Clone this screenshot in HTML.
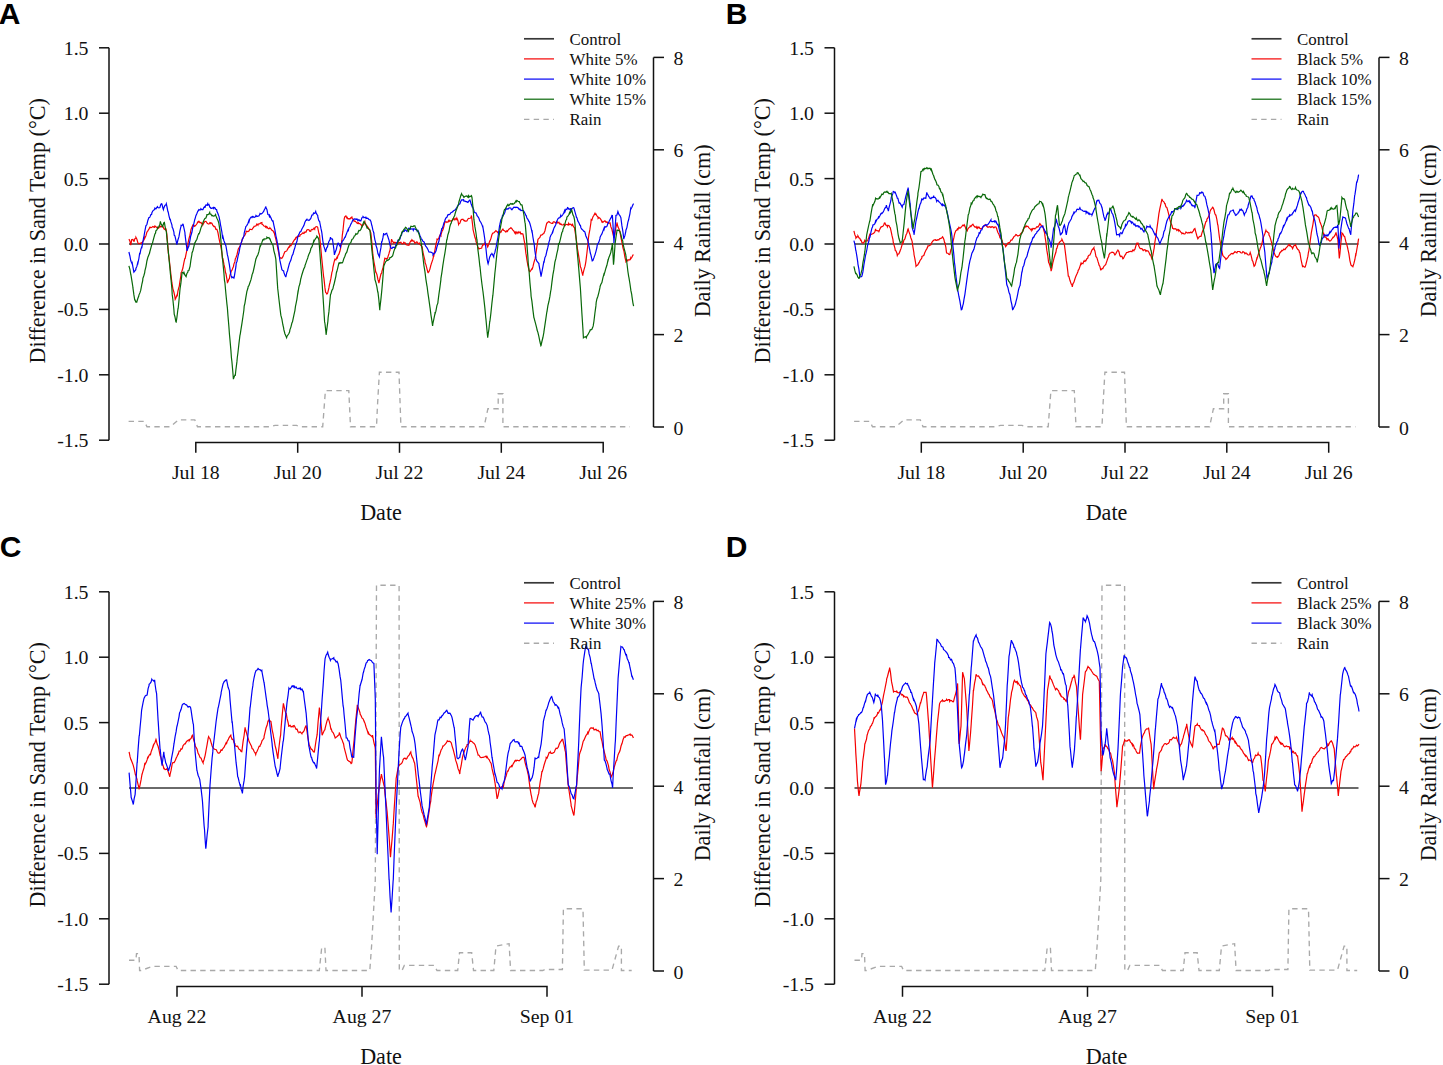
<!DOCTYPE html>
<html><head><meta charset="utf-8"><style>
html,body{margin:0;padding:0;background:#fff;width:1443px;height:1065px;overflow:hidden}
svg{display:block}
text{font-family:"Liberation Serif",serif;fill:#111}
.let{font-family:"Liberation Sans",sans-serif;font-weight:bold;font-size:30px;fill:#000}
.tk{font-size:19.8px}
.ti{font-size:22.1px}
.lg{font-size:16.9px}
path{fill:none}
.ax{stroke:#111;stroke-width:1.5}
.ctl{stroke:#383838;stroke-width:1.7}
.s1{stroke:#f50000;stroke-width:1.2}
.s2{stroke:#0000f5;stroke-width:1.2}
.s3{stroke:#086808;stroke-width:1.2}
.rain{stroke:#a9a9a9;stroke-width:1.35;stroke-dasharray:5.4,4.3}
</style></head><body>
<svg width="1443" height="1065" viewBox="0 0 1443 1065">
<g transform="translate(0,0)">
<text x="-1.2" y="24" class="let">A</text>
<path d="M109,47.8V440.2" class="ax"/>
<path d="M99,47.8H109" class="ax"/>
<text x="88.5" y="54.8" class="tk" text-anchor="end">1.5</text>
<path d="M99,113.2H109" class="ax"/>
<text x="88.5" y="120.2" class="tk" text-anchor="end">1.0</text>
<path d="M99,178.6H109" class="ax"/>
<text x="88.5" y="185.6" class="tk" text-anchor="end">0.5</text>
<path d="M99,244.0H109" class="ax"/>
<text x="88.5" y="251.0" class="tk" text-anchor="end">0.0</text>
<path d="M99,309.4H109" class="ax"/>
<text x="88.5" y="316.4" class="tk" text-anchor="end">-0.5</text>
<path d="M99,374.8H109" class="ax"/>
<text x="88.5" y="381.8" class="tk" text-anchor="end">-1.0</text>
<path d="M99,440.2H109" class="ax"/>
<text x="88.5" y="447.2" class="tk" text-anchor="end">-1.5</text>
<text transform="translate(44.6,230.85) rotate(-90)" class="ti" text-anchor="middle">Difference in Sand Temp (°C)</text>
<path d="M653.5,57.4V427.0" class="ax"/>
<path d="M653.5,427.0H664" class="ax"/>
<text x="673.5" y="434.5" class="tk">0</text>
<path d="M653.5,334.6H664" class="ax"/>
<text x="673.5" y="342.1" class="tk">2</text>
<path d="M653.5,242.2H664" class="ax"/>
<text x="673.5" y="249.7" class="tk">4</text>
<path d="M653.5,149.8H664" class="ax"/>
<text x="673.5" y="157.3" class="tk">6</text>
<path d="M653.5,57.4H664" class="ax"/>
<text x="673.5" y="64.9" class="tk">8</text>
<text transform="translate(710.1,230.85) rotate(-90)" class="ti" text-anchor="middle">Daily Rainfall (cm)</text>
<path d="M195.8,452.8V442.5H603.2V452.8" class="ax"/>
<path d="M297.7,442.5V452.8" class="ax"/>
<path d="M399.5,442.5V452.8" class="ax"/>
<path d="M501.3,442.5V452.8" class="ax"/>
<text x="195.8" y="479.3" class="tk" text-anchor="middle">Jul 18</text>
<text x="297.7" y="479.3" class="tk" text-anchor="middle">Jul 20</text>
<text x="399.5" y="479.3" class="tk" text-anchor="middle">Jul 22</text>
<text x="501.3" y="479.3" class="tk" text-anchor="middle">Jul 24</text>
<text x="603.2" y="479.3" class="tk" text-anchor="middle">Jul 26</text>
<text x="381" y="519.7" class="ti" text-anchor="middle">Date</text>
<path d="M129,244.0H633" class="ctl"/>
<path d="M128.6,421.3 144.3,421.3 147.0,426.7 170.5,426.7 178.6,419.8 194.8,419.8 197.5,426.7 270.5,426.7 275.0,425.4 296.6,425.4 300.0,426.7 322.7,426.7 325.4,390.6 348.8,390.6 350.5,426.7 376.5,426.7 377.5,404.9 379.4,372.2 399.0,372.2 400.9,426.7 484.1,426.7 487.9,408.7 493.5,408.7 498.2,408.7 498.2,393.7 502.9,393.7 502.9,426.7 630.0,426.7" class="rain"/>
<path d="M128.9,239.1 129.9,241.0 130.8,245.1 130.9,244.5 131.8,239.1 131.9,239.6 132.9,239.4 133.8,241.1 133.9,241.7 134.9,238.6 135.8,238.2 135.9,237.3 136.9,239.3 137.7,242.1 137.9,242.9 138.9,243.7 139.9,243.3 140.9,243.2 141.7,242.7 141.9,243.1 142.9,241.5 143.9,239.9 144.7,237.2 144.9,238.0 145.9,235.9 146.9,232.0 147.6,231.3 147.9,230.7 148.9,229.1 149.9,227.2 150.6,227.3 150.9,227.8 151.9,227.3 152.9,226.4 153.9,227.1 154.5,227.3 154.9,226.0 155.9,226.8 156.9,227.5 157.5,227.3 157.9,228.5 158.9,227.8 159.9,225.9 160.9,227.1 161.4,226.3 161.9,226.3 162.9,226.5 163.9,228.6 164.4,229.3 164.9,228.8 165.9,228.8 166.3,230.3 166.9,234.7 167.9,246.6 168.3,252.9 168.9,256.4 169.9,265.5 170.3,268.8 170.9,274.6 171.9,282.7 172.2,284.5 172.9,288.8 173.9,292.1 174.9,296.9 175.2,299.3 175.9,298.0 176.9,295.4 177.2,296.3 177.9,291.2 178.9,287.3 179.2,286.5 179.9,281.6 180.9,275.6 181.1,272.7 181.9,271.2 182.9,268.0 183.1,266.8 183.9,262.7 184.9,258.2 185.1,258.9 185.9,254.8 186.9,250.0 187.9,245.0 188.0,243.1 188.9,239.0 189.9,235.2 190.9,230.0 191.0,229.3 191.9,227.2 192.9,225.1 193.9,226.0 193.9,225.3 194.9,226.1 195.9,225.1 196.9,223.8 197.9,221.6 197.9,222.4 198.9,221.3 199.9,222.7 200.9,222.5 201.9,223.7 202.8,223.4 202.9,224.8 203.9,222.8 204.9,221.5 205.9,221.3 206.8,222.4 206.9,223.0 207.9,223.7 208.9,224.1 209.9,222.6 210.7,223.4 210.9,222.9 211.9,223.3 212.9,225.4 213.9,226.5 214.6,226.3 214.9,226.6 215.9,229.3 216.9,229.3 217.6,231.3 217.9,232.5 218.9,237.8 219.9,242.7 220.6,245.1 220.9,246.7 221.9,252.8 222.5,258.8 222.9,258.6 223.9,264.2 224.9,268.3 225.5,272.7 225.9,273.3 226.9,279.1 227.4,282.5 227.9,282.0 228.9,279.0 229.4,278.6 229.9,275.4 230.9,272.2 231.4,270.7 231.9,270.4 232.9,267.8 233.4,266.7 233.9,264.1 234.9,261.7 235.3,258.9 235.9,257.7 236.9,255.0 237.9,250.6 238.3,249.0 238.9,248.0 239.9,246.4 240.9,244.1 241.9,240.9 242.2,239.1 242.9,238.2 243.9,236.2 244.9,235.1 245.9,232.9 246.2,231.3 246.9,231.4 247.9,231.6 248.9,231.1 249.9,229.2 250.1,229.3 250.9,229.4 251.9,229.5 252.9,228.2 253.9,227.0 254.1,226.3 254.9,226.2 255.9,226.0 256.9,224.1 257.9,225.2 258.0,224.4 258.9,223.9 259.9,223.6 260.9,222.9 261.9,222.6 262.0,224.4 262.9,224.7 263.9,226.0 264.9,226.3 265.9,227.4 265.9,226.3 266.9,226.8 267.9,228.2 268.9,228.8 269.8,228.3 269.9,227.8 270.9,228.8 271.9,230.2 272.9,230.8 273.8,232.3 273.9,231.3 274.9,235.6 275.9,239.3 276.7,243.1 276.9,243.6 277.9,249.2 278.9,253.5 279.7,257.9 279.9,257.3 280.9,258.3 281.7,257.9 281.9,258.2 282.9,256.7 283.6,254.9 283.9,253.9 284.9,251.7 285.9,251.2 286.6,251.0 286.9,250.5 287.9,248.6 288.9,246.9 289.6,247.0 289.9,245.4 290.9,245.8 291.9,244.0 292.5,243.1 292.9,242.3 293.9,240.6 294.9,239.2 295.5,239.2 295.9,237.5 296.9,236.9 297.0,238.2 297.9,236.2 298.9,236.4 299.9,236.0 299.9,235.2 300.9,234.6 301.9,233.8 302.9,232.9 302.9,233.2 303.9,233.6 304.9,231.9 305.9,232.2 306.8,230.3 306.9,229.9 307.9,229.5 308.9,229.7 309.9,231.4 310.8,231.3 310.9,230.2 311.9,229.4 312.9,229.5 313.9,228.2 314.7,229.3 314.9,227.8 315.9,226.7 316.9,226.6 317.7,227.3 317.9,228.5 318.9,233.3 319.6,235.3 319.9,239.1 320.9,249.0 321.6,256.9 321.9,259.9 322.9,269.7 323.6,276.6 323.9,278.1 324.9,287.4 325.6,292.4 325.9,292.5 326.9,294.0 327.5,293.4 327.9,292.2 328.9,287.9 329.5,284.5 329.9,283.0 330.9,278.4 331.9,272.4 332.5,270.7 332.9,267.3 333.9,262.9 334.4,260.8 334.9,259.2 335.9,259.8 336.9,257.3 337.4,257.9 337.9,255.6 338.9,254.2 339.9,251.3 340.4,249.0 340.9,246.7 341.9,240.2 342.3,235.2 342.9,231.2 343.9,221.3 344.3,218.4 344.9,216.7 345.9,216.0 346.9,218.0 347.2,217.5 347.9,218.8 348.9,218.7 349.9,219.0 350.9,217.8 351.9,217.0 352.2,218.5 352.9,218.7 353.9,220.8 354.1,221.4 354.9,221.0 355.9,221.8 356.9,223.1 357.9,223.6 358.1,222.4 358.9,223.4 359.9,223.8 360.9,224.5 361.9,226.0 362.0,225.3 362.9,225.4 363.9,224.1 364.9,221.7 365.0,222.4 365.9,224.6 366.9,226.0 367.9,227.8 367.9,227.3 368.9,228.9 369.9,230.4 370.9,233.1 370.9,233.3 371.9,243.2 372.9,255.0 372.9,254.9 373.9,261.6 374.9,266.9 375.8,272.7 375.9,272.0 376.9,274.5 377.9,279.4 378.8,282.5 378.9,283.1 379.9,278.3 380.9,274.1 381.8,272.7 381.9,271.3 382.9,268.3 383.9,263.0 384.7,258.9 384.9,259.3 385.9,258.2 386.9,258.9 387.7,257.9 387.9,256.8 388.9,253.9 389.6,251.0 389.9,250.8 390.9,243.8 391.6,239.2 391.9,240.4 392.9,241.6 393.6,243.1 393.9,242.7 394.9,242.3 395.9,243.0 396.9,242.7 397.5,243.1 397.9,244.0 398.9,242.5 399.9,242.6 400.9,242.3 401.5,243.1 401.9,243.6 402.9,243.8 403.9,242.2 404.9,243.3 405.4,243.1 405.9,244.6 406.9,245.0 407.9,245.1 408.4,245.1 408.9,245.2 409.9,242.5 410.9,240.8 411.3,241.1 411.9,239.8 412.9,241.2 413.9,241.0 414.9,243.4 415.3,243.1 415.9,242.5 416.9,241.8 417.9,243.5 418.9,243.8 419.2,243.1 419.9,244.4 420.9,245.3 421.9,247.1 422.2,247.0 422.9,252.0 423.9,256.3 424.9,260.3 425.1,262.8 425.9,264.6 426.9,268.7 427.9,272.5 428.1,272.7 428.9,271.7 429.9,269.1 430.9,265.0 431.0,264.8 431.9,262.1 432.9,259.2 433.9,254.6 434.0,254.9 434.9,250.2 435.9,244.6 436.9,240.4 437.0,239.1 437.9,239.5 438.9,237.8 439.9,235.3 440.9,236.1 440.9,235.2 441.9,231.5 442.9,229.7 443.9,226.4 444.8,222.4 444.9,222.4 445.9,221.6 446.9,222.4 447.9,221.6 448.8,220.4 448.9,221.6 449.9,220.7 450.9,221.1 451.9,221.0 452.7,219.4 452.9,219.8 453.9,218.4 454.9,219.9 455.9,218.5 456.7,219.4 456.9,218.3 457.9,220.5 458.6,224.4 458.9,223.7 459.9,223.2 460.9,220.1 461.6,219.4 461.9,219.6 462.9,219.2 463.9,220.6 464.6,220.4 464.9,221.1 465.9,221.1 466.9,221.0 467.9,219.0 468.5,218.4 468.9,218.5 469.9,218.3 470.9,217.8 471.5,215.5 471.9,219.0 472.9,227.4 473.0,229.3 473.9,233.2 474.9,237.3 475.9,240.1 475.9,241.1 476.9,244.1 477.9,246.9 478.9,249.0 479.9,248.4 480.9,248.5 481.8,248.0 481.9,246.9 482.9,244.6 483.9,244.8 484.8,243.1 484.9,244.1 485.9,244.1 486.9,244.6 487.7,247.0 487.9,246.6 488.9,243.6 489.7,241.1 489.9,241.2 490.9,238.6 491.9,234.8 492.7,233.2 492.9,233.1 493.9,232.7 494.9,231.8 495.9,230.6 496.6,231.3 496.9,231.5 497.9,232.6 498.9,231.9 499.6,233.2 499.9,231.8 500.9,232.3 501.9,230.3 502.9,229.1 503.5,230.3 503.9,230.5 504.9,231.0 505.9,232.0 506.9,230.6 507.5,231.3 507.9,230.5 508.9,229.2 509.9,228.6 510.9,227.6 511.4,228.3 511.9,228.6 512.9,230.1 513.9,231.2 514.9,233.0 515.4,232.2 515.9,233.7 516.9,231.9 517.9,233.4 518.9,231.7 519.9,232.8 520.3,232.3 520.9,233.9 521.9,233.6 522.9,234.0 523.2,235.2 523.9,238.8 524.9,244.6 525.9,253.4 526.2,254.9 526.9,260.0 527.9,265.7 528.9,269.7 529.1,270.7 529.9,271.7 530.9,270.4 531.9,268.8 532.1,269.7 532.9,266.9 533.9,262.6 534.9,259.3 535.1,258.9 535.9,253.6 536.9,246.6 537.9,239.8 538.0,239.2 538.9,238.4 539.9,237.5 540.9,234.6 541.0,235.2 541.9,235.0 542.9,234.0 543.9,233.4 543.9,233.2 544.9,231.0 545.9,226.5 546.9,222.6 546.9,223.4 547.9,222.2 548.9,221.6 549.9,222.4 549.9,222.4 550.9,223.0 551.9,223.4 552.8,223.4 552.9,222.3 553.9,221.7 554.9,222.2 555.9,223.1 556.8,221.4 556.9,221.5 557.9,223.1 558.9,222.3 559.9,224.3 560.7,224.4 560.9,223.7 561.9,225.0 562.9,225.0 563.9,224.2 564.6,225.3 564.9,225.7 565.9,224.4 566.9,224.5 567.9,224.9 568.6,223.4 568.9,224.8 569.9,224.2 570.9,224.3 571.9,225.6 572.5,224.4 572.9,225.3 573.9,227.3 574.5,227.4 574.9,230.5 575.9,237.0 576.9,243.9 577.5,249.0 577.9,251.1 578.9,257.3 579.9,263.3 580.4,266.8 580.9,267.7 581.9,271.8 582.8,275.6 582.9,274.1 583.9,270.1 584.9,266.7 585.3,264.8 585.9,261.3 586.9,253.2 587.9,244.1 588.3,239.1 588.9,234.7 589.9,229.4 590.9,222.8 591.2,219.5 591.9,220.0 592.9,216.9 593.9,215.3 594.9,213.4 595.2,214.5 595.9,213.9 596.9,215.9 597.9,216.8 598.1,218.4 598.9,217.5 599.9,218.2 600.9,219.6 601.9,221.8 602.1,221.4 602.9,222.4 603.9,221.4 604.9,220.8 605.9,221.7 606.0,222.4 606.9,221.9 607.9,223.2 608.9,223.2 609.9,223.0 610.0,222.4 610.9,226.9 611.9,229.3 612.9,233.6 613.9,237.9 613.9,237.2 614.9,234.1 615.9,227.5 616.9,223.6 616.9,222.4 617.9,226.8 618.9,228.8 619.8,231.3 619.9,231.4 620.9,237.5 621.9,242.2 622.8,247.0 622.9,247.6 623.9,251.0 624.9,257.1 625.8,260.8 625.9,261.6 626.9,260.1 627.7,260.8 627.9,259.9 628.9,259.8 629.9,259.9 630.7,257.9 630.9,258.6 631.9,257.3 632.9,255.0 633.6,254.9" class="s1"/>
<path d="M128.9,252.0 129.9,256.0 130.8,260.8 130.9,261.1 131.9,263.4 132.2,262.8 132.9,266.8 133.8,271.7 133.9,272.2 134.9,270.9 135.8,269.7 135.9,268.5 136.9,266.4 137.7,262.8 137.9,263.2 138.9,258.5 139.7,252.9 139.9,254.3 140.9,249.2 141.7,247.0 141.9,247.2 142.9,241.8 143.7,237.2 143.9,236.6 144.9,230.9 145.6,227.3 145.9,225.8 146.9,224.5 147.6,221.4 147.9,220.3 148.9,217.5 149.6,217.5 149.9,217.0 150.9,214.6 151.6,214.5 151.9,212.6 152.9,210.8 153.9,209.9 154.5,209.6 154.9,208.1 155.9,208.9 156.9,207.4 157.5,206.6 157.9,207.6 158.9,207.8 159.9,207.6 160.4,205.6 160.9,204.4 161.4,203.7 161.9,203.9 162.9,208.2 163.4,209.6 163.9,207.7 164.9,205.4 165.9,204.9 166.3,203.7 166.9,206.5 167.9,211.5 168.3,212.5 168.9,215.6 169.9,219.5 170.3,219.4 170.9,221.9 171.9,224.8 172.2,227.3 172.9,228.5 173.9,232.1 174.2,235.2 174.9,235.9 175.9,240.2 176.8,244.1 176.9,244.1 177.9,240.0 178.9,236.9 179.2,235.2 179.9,231.2 180.9,226.7 181.1,225.3 181.9,225.5 182.9,224.2 183.1,224.4 183.9,227.8 184.9,232.5 185.1,235.2 185.9,241.4 186.9,248.9 187.0,250.9 187.9,248.2 188.9,246.1 189.0,245.0 189.9,240.6 190.9,234.8 191.0,235.2 191.9,232.3 192.9,226.9 192.9,227.3 193.9,223.3 194.9,218.8 194.9,219.4 195.9,215.7 196.9,213.5 197.9,210.9 197.9,211.5 198.9,209.5 199.9,210.0 200.8,209.6 200.9,208.7 201.9,209.6 202.9,209.6 203.9,207.4 204.8,206.6 204.9,207.8 205.9,204.9 206.9,205.2 207.7,203.7 207.9,205.0 208.9,204.4 209.9,207.2 210.7,207.6 210.9,208.3 211.9,208.3 212.9,207.7 213.7,208.6 213.9,207.3 214.9,207.7 215.9,209.5 216.6,209.6 216.9,211.3 217.9,213.5 218.6,215.5 218.9,216.1 219.9,220.8 220.6,225.3 220.9,226.6 221.9,232.2 222.5,237.2 222.9,236.3 223.9,240.7 224.9,243.2 225.5,245.1 225.9,245.7 226.9,251.7 227.4,254.9 227.9,256.6 228.9,262.1 229.4,264.8 229.9,268.4 230.9,275.2 231.4,276.6 231.9,277.8 232.9,277.0 233.9,278.0 234.3,276.6 234.9,272.8 235.9,266.7 236.3,262.8 236.9,261.7 237.9,256.9 238.3,254.9 238.9,253.1 239.9,247.7 240.9,243.8 241.2,243.1 241.9,240.6 242.9,238.2 243.9,235.9 244.2,233.2 244.9,230.4 245.9,226.4 246.2,226.3 246.9,225.4 247.9,223.5 248.9,220.6 249.1,221.4 249.9,218.7 250.9,217.2 251.9,216.8 252.1,217.5 252.9,216.4 253.9,217.3 254.9,217.2 255.9,216.0 256.0,215.5 256.9,216.5 257.9,216.1 258.9,216.0 259.9,214.0 260.0,213.5 260.9,214.1 261.9,213.6 262.9,212.4 263.9,211.0 263.9,210.6 264.9,208.7 265.9,206.5 265.9,207.6 266.9,209.5 267.9,214.5 268.9,214.8 269.8,217.5 269.9,215.7 270.9,217.7 271.9,220.1 272.8,221.4 272.9,220.4 273.9,225.3 274.9,229.8 275.8,235.2 275.9,235.8 276.9,240.1 277.7,245.1 277.9,245.2 278.9,251.8 279.7,258.9 279.9,260.4 280.9,265.2 281.7,268.7 281.9,269.7 282.9,270.6 283.6,270.7 283.9,272.6 284.9,275.3 285.6,276.6 285.9,276.6 286.9,272.2 287.6,270.7 287.9,269.2 288.9,265.3 289.6,262.8 289.9,262.3 290.9,260.1 291.9,256.2 292.5,254.9 292.9,254.5 293.9,250.5 294.9,247.6 295.5,245.1 295.9,244.0 296.9,241.5 297.9,236.5 298.4,235.2 298.9,234.4 299.9,232.0 300.9,231.6 300.9,231.3 301.9,229.0 302.9,227.2 303.9,225.4 304.9,222.2 305.9,220.3 306.8,219.4 306.9,220.2 307.9,219.8 308.9,220.4 309.9,219.5 310.8,218.4 310.9,218.1 311.9,215.0 312.9,215.0 313.7,212.5 313.9,213.6 314.9,213.3 315.7,211.5 315.9,212.5 316.9,214.4 317.7,215.5 317.9,217.5 318.9,220.8 319.6,221.4 319.9,223.0 320.9,228.2 321.6,231.3 321.9,233.1 322.9,241.3 323.6,245.1 323.9,246.4 324.9,249.4 325.6,252.0 325.9,250.3 326.9,247.2 327.5,247.0 327.9,244.6 328.9,241.4 329.9,239.8 330.5,237.2 330.9,238.7 331.9,238.8 332.5,239.1 332.9,242.3 333.9,249.3 334.4,254.9 334.9,253.0 335.9,250.6 336.4,249.0 336.9,246.6 337.9,243.2 338.4,243.1 338.9,244.3 339.9,246.0 340.4,247.0 340.9,244.2 341.9,242.7 342.3,241.1 342.9,240.7 343.9,239.3 344.9,237.2 345.3,237.2 345.9,235.2 346.9,232.6 347.9,230.2 348.2,231.3 348.9,228.0 349.9,226.5 350.9,224.1 351.9,222.2 352.2,221.4 352.9,219.9 353.9,219.4 354.9,218.8 355.9,219.4 356.1,219.4 356.9,218.9 357.9,220.5 358.9,219.7 359.9,220.9 360.1,220.4 360.9,220.7 361.9,217.8 362.9,216.8 363.0,216.5 363.9,217.7 364.9,217.3 365.9,217.2 366.0,218.4 366.9,218.2 367.9,218.3 368.9,219.5 369.9,220.0 369.9,219.4 370.9,221.4 371.9,225.8 371.9,225.3 372.9,230.2 373.9,233.2 373.9,234.3 374.9,239.8 375.8,243.1 375.9,245.1 376.9,248.2 377.8,253.0 377.9,253.6 378.9,255.8 379.4,256.9 379.9,253.2 380.9,247.9 381.8,241.1 381.9,242.2 382.9,237.9 383.7,233.2 383.9,234.6 384.9,234.9 385.9,233.5 386.7,233.2 386.9,234.1 387.9,236.8 388.6,239.1 388.9,239.7 389.9,244.6 390.6,247.0 390.9,248.1 391.9,248.6 392.9,247.1 393.9,247.4 394.6,248.0 394.9,247.6 395.9,245.0 396.9,242.5 397.5,242.1 397.9,240.3 398.9,240.5 399.9,239.0 400.9,235.6 401.5,235.2 401.9,233.2 402.9,231.5 403.9,231.4 404.4,231.3 404.9,229.6 405.9,230.4 406.9,231.5 407.4,230.3 407.9,229.5 408.9,228.1 409.9,229.1 410.3,228.3 410.9,229.3 411.9,228.8 412.9,229.0 413.3,230.3 413.9,228.8 414.9,229.0 415.9,229.6 416.9,229.7 417.2,231.3 417.9,230.6 418.9,232.6 419.9,235.5 420.9,237.8 421.2,239.1 421.9,239.2 422.9,241.3 423.9,241.7 424.9,243.9 425.1,245.1 425.9,246.5 426.9,247.6 427.9,249.4 428.9,252.0 429.1,252.0 429.9,252.1 430.9,252.2 431.9,252.7 432.9,253.2 433.0,254.9 433.9,253.6 434.9,253.0 435.9,251.0 436.0,251.0 436.9,247.0 437.9,243.9 438.9,241.3 438.9,241.1 439.9,236.4 440.9,232.4 441.9,228.2 441.9,229.3 442.9,226.8 443.9,222.9 444.8,221.4 444.9,220.2 445.9,217.9 446.9,217.3 447.9,214.8 448.8,214.5 448.9,214.7 449.9,214.3 450.9,212.7 451.9,212.2 452.7,211.5 452.9,211.7 453.9,210.4 454.9,210.1 455.9,209.0 456.7,207.6 456.9,207.3 457.9,205.6 458.9,204.4 459.9,203.8 460.6,201.7 460.9,201.1 461.9,199.7 462.9,200.1 463.6,199.7 463.9,201.1 464.9,201.0 465.9,201.6 466.5,201.7 466.9,201.9 467.9,202.4 468.9,200.9 469.9,200.1 470.5,201.7 470.9,203.2 471.9,206.0 472.0,205.6 472.9,207.6 473.9,210.4 473.9,211.5 474.9,212.7 475.9,212.8 476.9,214.8 476.9,215.5 477.9,216.6 478.9,218.2 479.9,221.4 479.9,221.0 480.9,222.5 481.9,224.6 482.8,227.3 482.9,227.1 483.9,233.1 484.8,239.2 484.9,240.5 485.9,248.0 486.8,256.9 486.9,257.8 487.9,263.1 488.1,263.8 488.9,260.7 489.7,256.9 489.9,256.8 490.9,254.5 491.7,253.9 491.9,253.5 492.9,255.3 493.7,256.9 493.9,254.9 494.9,252.4 495.6,249.0 495.9,248.4 496.9,242.9 497.6,239.2 497.9,237.5 498.9,230.6 499.6,225.4 499.9,224.2 500.9,219.7 501.9,218.3 502.5,215.5 502.9,215.7 503.9,214.5 504.9,212.2 505.5,209.6 505.9,209.6 506.9,208.5 507.9,209.2 508.4,208.6 508.9,208.1 509.9,207.8 510.9,208.2 511.4,209.6 511.9,209.8 512.9,208.4 513.9,207.1 514.9,207.4 515.4,207.6 515.9,207.2 516.9,207.4 517.9,207.6 518.9,209.1 519.3,209.6 519.9,209.0 520.9,210.5 521.9,210.3 522.9,210.6 523.2,210.6 523.9,211.3 524.9,213.3 525.9,215.5 526.2,215.5 526.9,218.1 527.9,219.4 528.9,221.4 529.1,221.4 529.9,223.5 530.9,227.2 531.9,231.6 532.1,231.3 532.9,237.0 533.9,242.8 534.1,243.1 534.9,250.9 535.9,257.6 536.0,258.9 536.9,261.1 537.9,262.3 538.9,263.6 539.0,264.8 539.9,269.7 540.9,275.3 541.0,276.6 541.9,272.0 542.9,266.8 543.9,261.4 543.9,262.8 544.9,257.6 545.9,255.5 546.9,250.9 546.9,251.0 547.9,247.2 548.9,242.3 549.9,239.1 549.9,237.8 550.9,235.3 551.9,233.7 552.8,231.3 552.9,231.7 553.9,228.2 554.9,226.4 555.9,224.3 556.8,221.4 556.9,221.1 557.9,218.8 558.9,217.8 559.9,217.7 560.7,215.5 560.9,216.7 561.9,215.9 562.9,214.5 563.9,212.4 564.6,210.6 564.9,211.9 565.9,209.2 566.9,209.5 567.6,207.6 567.9,207.7 568.9,209.2 569.9,208.8 570.5,210.6 570.9,208.7 571.9,208.8 572.9,207.7 573.5,207.6 573.9,208.0 574.9,211.7 575.9,215.2 576.5,217.5 576.9,217.7 577.9,221.2 578.9,222.7 579.9,225.2 580.4,225.3 580.9,227.7 581.9,229.3 582.9,230.1 583.9,231.3 584.4,231.3 584.9,232.0 585.9,236.0 586.9,238.3 587.3,239.1 587.9,240.7 588.9,245.8 589.9,250.7 590.3,253.0 590.9,254.8 591.9,259.4 592.2,260.8 592.9,260.5 593.9,257.9 594.2,256.9 594.9,255.1 595.9,251.6 596.9,247.7 597.2,245.1 597.9,243.8 598.9,242.1 599.9,238.7 600.1,237.2 600.9,235.5 601.9,233.9 602.9,231.1 603.9,228.5 604.1,229.3 604.9,226.6 605.9,227.1 606.9,226.4 607.9,223.6 608.0,223.4 608.9,221.8 609.9,219.7 610.9,217.8 611.0,218.4 611.9,215.4 612.4,215.5 612.9,223.2 613.9,241.5 613.9,243.1 614.9,230.2 615.9,216.8 615.9,215.5 616.9,215.1 617.9,211.5 618.9,214.4 619.9,215.6 620.8,217.5 620.9,217.8 621.9,225.7 622.9,231.7 623.8,239.1 623.9,238.2 624.9,235.7 625.8,231.3 625.9,230.2 626.9,227.6 627.9,222.1 628.7,219.5 628.9,218.4 629.9,213.8 630.7,208.6 630.9,209.1 631.9,207.3 632.9,204.7 633.6,203.7" class="s2"/>
<path d="M128.9,265.8 129.9,269.3 130.8,274.6 130.9,274.6 131.9,280.8 132.8,286.5 132.9,287.7 133.9,294.9 134.8,300.3 134.9,299.7 135.9,302.1 136.8,302.2 136.9,301.5 137.9,298.3 138.7,296.3 138.9,295.1 139.9,292.9 140.7,290.4 140.9,289.4 141.9,284.0 142.7,280.6 142.9,278.3 143.9,275.5 144.7,272.6 144.9,270.9 145.9,266.8 146.6,262.8 146.9,261.0 147.9,257.2 148.9,254.7 149.6,253.0 149.9,251.5 150.9,247.9 151.9,244.1 152.5,243.1 152.9,241.4 153.9,237.7 154.9,234.0 155.5,233.2 155.9,230.8 156.9,229.9 157.9,227.2 158.4,227.3 158.9,226.6 159.9,224.2 160.4,221.4 160.9,223.7 161.9,225.2 162.4,227.3 162.9,225.5 163.9,222.7 164.4,222.4 164.9,225.6 165.9,230.8 166.3,231.2 166.9,238.0 167.9,248.1 168.3,250.9 168.9,257.9 169.9,267.9 170.3,272.7 170.9,278.4 171.9,288.8 172.2,294.4 172.9,299.7 173.9,309.7 174.2,314.1 174.9,316.5 175.9,321.8 176.2,322.0 176.9,317.5 177.9,309.3 178.2,308.2 178.9,301.3 179.9,290.2 180.1,288.5 180.9,283.2 181.9,274.1 182.1,272.7 182.9,272.4 183.9,273.8 184.1,272.7 184.9,274.9 185.9,276.3 186.1,276.6 186.9,273.4 187.9,272.1 188.0,270.7 188.9,270.5 189.9,266.9 190.0,266.8 190.9,260.2 191.9,254.5 192.0,253.0 192.9,250.7 193.9,246.6 194.9,242.3 194.9,243.1 195.9,240.9 196.9,239.2 197.9,235.6 198.9,233.2 198.9,234.4 199.9,231.6 200.9,228.1 201.9,225.4 202.8,223.4 202.9,222.7 203.9,220.3 204.9,218.5 205.9,218.0 206.8,215.5 206.9,214.7 207.9,214.7 208.9,214.1 209.7,212.5 209.9,214.0 210.9,214.1 211.9,215.7 212.7,215.5 212.9,215.9 213.9,216.1 214.9,215.6 215.6,214.5 215.9,215.9 216.9,218.2 217.9,220.2 218.6,222.4 218.9,223.6 219.9,230.4 220.6,237.2 220.9,240.4 221.9,252.6 222.5,258.8 222.9,262.6 223.9,273.0 224.5,280.6 224.9,282.6 225.9,293.7 226.9,303.9 227.4,308.1 227.9,315.0 228.9,326.8 229.4,333.7 229.9,339.0 230.9,350.4 231.4,357.5 231.9,361.5 232.9,372.8 233.4,379.1 233.9,377.6 234.9,375.1 235.3,375.2 235.9,369.8 236.9,361.9 237.3,357.5 237.9,353.0 238.9,344.0 239.9,335.6 240.3,333.8 240.9,329.9 241.9,323.6 242.9,317.0 243.9,310.0 244.2,306.2 244.9,303.3 245.9,297.2 246.9,291.4 247.9,288.3 248.2,286.5 248.9,285.7 249.9,282.8 250.9,279.9 251.9,276.0 252.1,274.6 252.9,272.8 253.9,268.5 254.9,263.9 255.9,258.9 256.0,258.9 256.9,256.6 257.9,254.7 258.9,251.7 259.9,246.8 260.0,247.0 260.9,245.0 261.9,242.4 262.9,239.6 263.9,239.8 263.9,239.1 264.9,238.9 265.9,239.0 266.9,238.1 266.9,237.2 267.9,238.0 268.9,237.5 269.8,239.1 269.9,238.3 270.9,241.6 271.9,243.5 272.8,245.1 272.9,244.6 273.9,250.8 274.9,254.5 275.8,258.9 275.9,260.1 276.9,276.1 277.7,288.4 277.9,290.0 278.9,299.0 279.9,307.4 280.7,314.1 280.9,315.4 281.9,319.1 282.9,325.0 283.6,327.9 283.9,329.9 284.9,333.7 285.9,336.0 286.6,337.7 286.9,336.5 287.9,335.0 288.9,333.5 289.6,331.8 289.9,329.9 290.9,327.1 291.9,323.0 292.5,321.9 292.9,319.8 293.9,315.1 294.9,310.6 295.5,306.2 295.9,304.3 296.9,299.3 297.9,292.2 298.0,292.4 298.9,286.9 299.9,283.8 300.9,278.1 300.9,278.6 301.9,274.7 302.9,271.5 303.9,268.6 304.9,266.7 304.9,265.9 305.9,263.1 306.9,260.1 307.8,257.9 307.9,257.1 308.9,254.2 309.9,252.3 310.8,249.0 310.9,248.5 311.9,246.9 312.9,244.1 313.7,241.1 313.9,241.7 314.9,239.6 315.9,238.1 316.7,237.2 316.9,236.1 317.9,237.4 318.7,239.2 318.9,240.1 319.9,252.5 320.6,262.8 320.9,265.8 321.9,279.8 322.6,290.4 322.9,294.8 323.9,310.5 324.6,321.9 324.9,323.0 325.9,331.9 326.1,334.8 326.9,328.7 327.9,321.1 328.1,318.0 328.9,311.9 329.9,300.8 330.5,294.4 330.9,293.9 331.9,290.3 332.9,288.8 333.4,286.4 333.9,284.8 334.9,280.5 335.9,276.1 336.4,272.7 336.9,271.3 337.9,267.3 338.9,263.0 339.4,262.8 339.9,263.4 340.9,262.5 341.9,263.0 342.3,262.8 342.9,261.7 343.9,258.4 344.9,256.2 345.9,253.2 346.3,253.0 346.9,251.9 347.9,248.2 348.9,245.2 349.9,243.5 350.2,243.1 350.9,242.5 351.9,239.5 352.9,238.9 353.9,237.0 354.1,236.2 354.9,235.9 355.9,233.7 356.9,234.3 357.9,233.3 358.1,232.2 358.9,230.5 359.9,230.6 360.9,229.4 361.9,226.5 362.0,227.3 362.9,224.3 363.9,221.5 364.0,221.4 364.9,223.3 365.9,224.7 366.9,227.5 367.0,227.3 367.9,228.4 368.9,229.1 369.9,230.0 369.9,230.3 370.9,239.4 371.9,250.3 372.9,259.4 372.9,258.9 373.9,269.3 374.9,278.6 374.9,279.4 375.9,282.7 376.9,286.8 377.8,292.4 377.9,291.6 378.9,300.2 379.8,310.1 379.9,308.0 380.9,299.4 381.8,290.4 381.9,289.3 382.9,277.6 383.7,266.8 383.9,265.9 384.9,263.2 385.9,261.3 386.7,260.8 386.9,259.9 387.9,260.4 388.9,259.5 389.6,258.9 389.9,257.5 390.9,257.5 391.9,256.5 392.6,255.9 392.9,254.8 393.9,251.1 394.9,248.6 395.6,248.0 395.9,246.5 396.9,245.1 397.9,242.0 398.9,239.2 399.5,239.1 399.9,237.4 400.9,235.6 401.9,232.2 402.4,231.3 402.9,231.5 403.9,229.3 404.9,228.6 405.4,227.3 405.9,227.6 406.9,228.6 407.9,230.5 408.4,232.2 408.9,229.7 409.9,229.0 410.9,226.2 411.3,226.3 411.9,226.5 412.9,226.6 413.9,225.9 414.9,225.8 415.3,227.3 415.9,228.2 416.9,230.4 417.9,231.0 418.2,232.3 418.9,233.6 419.9,237.4 420.9,241.2 421.2,243.1 421.9,248.3 422.9,256.7 423.9,265.5 424.1,266.7 424.9,271.4 425.9,279.3 426.9,285.6 427.1,286.5 427.9,292.9 428.9,299.6 429.9,306.8 430.1,308.2 430.9,314.6 431.9,320.8 432.6,325.9 432.9,323.5 433.9,318.8 434.9,313.8 435.0,314.1 435.9,311.2 436.9,305.6 437.9,302.9 437.9,302.2 438.9,294.4 439.9,287.3 440.9,279.7 440.9,278.6 441.9,272.4 442.9,265.2 443.9,258.8 443.9,258.7 444.9,253.1 445.9,246.5 446.8,239.2 446.9,240.2 447.9,234.7 448.9,231.8 449.9,226.5 450.8,223.4 450.9,224.2 451.9,220.7 452.9,219.4 453.9,216.9 454.7,215.5 454.9,214.4 455.9,211.0 456.9,208.5 457.9,205.9 458.6,203.7 458.9,202.0 459.9,198.6 460.9,195.3 461.6,193.8 461.9,194.8 462.9,195.4 463.9,197.4 464.6,196.8 464.9,196.4 465.9,196.1 466.9,196.0 467.9,197.1 468.5,195.8 468.9,197.3 469.9,196.1 470.9,196.5 471.5,195.8 471.9,197.2 472.0,197.7 472.9,206.6 473.9,219.5 473.9,219.4 474.9,226.7 475.9,232.5 476.9,240.2 476.9,239.1 477.9,249.6 478.9,257.4 479.9,266.8 479.9,265.7 480.9,275.5 481.9,283.8 482.8,290.5 482.9,291.0 483.9,299.4 484.9,308.4 485.8,318.0 485.9,318.6 486.9,329.5 487.7,337.7 487.9,335.9 488.9,329.3 489.7,321.9 489.9,321.3 490.9,313.1 491.9,303.3 492.7,296.4 492.9,295.2 493.9,284.1 494.9,273.0 495.6,266.8 495.9,263.4 496.9,253.8 497.9,245.1 498.6,239.1 498.9,237.2 499.9,230.3 500.9,224.8 501.6,221.4 501.9,218.6 502.9,216.2 503.9,211.4 504.5,209.6 504.9,209.5 505.9,207.9 506.9,205.9 507.9,204.5 508.4,205.6 508.9,205.6 509.9,204.2 510.9,203.5 511.9,204.2 512.4,203.7 512.9,204.2 513.9,203.7 514.9,202.8 515.9,201.0 516.3,201.7 516.9,200.4 517.9,201.2 518.9,201.7 519.3,201.7 519.9,203.0 520.9,204.8 521.9,204.8 522.2,205.6 522.9,209.7 523.9,214.9 524.9,222.2 525.2,223.4 525.9,231.6 526.9,244.4 527.9,257.1 528.2,262.8 528.9,268.9 529.9,282.3 530.9,292.7 531.1,296.3 531.9,301.1 532.9,309.9 533.9,317.7 534.1,318.0 534.9,321.2 535.9,324.9 536.9,328.9 537.0,329.8 537.9,332.4 538.9,336.7 539.9,341.5 540.9,345.7 541.0,345.6 541.9,341.5 542.9,337.5 543.9,332.3 543.9,331.8 544.9,325.2 545.9,318.4 546.9,311.5 546.9,312.1 547.9,305.6 548.9,301.5 549.9,296.4 550.8,290.4 550.9,290.8 551.9,282.4 552.9,274.9 553.9,269.4 554.8,262.8 554.9,262.1 555.9,258.4 556.9,253.4 557.9,249.1 558.7,243.1 558.9,244.5 559.9,241.1 560.9,236.8 561.9,232.5 562.7,231.2 562.9,229.6 563.9,227.3 564.9,224.1 565.9,220.2 566.6,219.4 566.9,217.1 567.9,216.2 568.9,214.5 569.6,212.5 569.9,213.4 570.9,211.9 571.5,209.6 571.9,210.7 572.9,214.8 573.9,216.8 574.5,219.5 574.9,223.1 575.9,235.6 576.9,248.4 577.5,254.9 577.9,259.1 578.9,270.6 579.9,282.6 580.4,288.4 580.9,296.8 581.9,313.5 582.9,328.8 583.4,337.7 583.9,337.1 584.9,337.1 585.9,336.6 586.3,337.7 586.9,336.0 587.9,334.7 588.9,332.8 589.9,331.1 590.3,329.8 590.9,329.9 591.9,329.3 592.9,326.8 593.2,325.9 593.9,321.5 594.9,313.3 595.9,305.9 596.2,302.3 596.9,299.0 597.9,296.2 598.9,292.3 599.9,287.9 600.1,286.5 600.9,284.3 601.9,282.5 602.9,277.8 603.9,274.2 604.1,274.6 604.9,271.8 605.9,268.2 606.9,265.3 607.9,260.6 608.0,260.8 608.9,257.4 609.9,255.1 610.9,252.1 611.0,251.0 611.9,247.1 612.4,243.1 612.9,252.7 613.5,264.7 613.9,260.8 614.9,246.5 614.9,245.1 615.9,237.6 616.9,231.3 616.9,230.3 617.9,230.2 618.9,230.6 619.8,231.3 619.9,231.6 620.9,234.6 621.9,239.1 622.8,241.1 622.9,243.2 623.9,247.6 624.9,251.4 625.8,254.9 625.9,256.2 626.9,263.0 627.9,271.5 628.7,276.6 628.9,277.3 629.9,283.5 630.9,290.7 631.7,294.3 631.9,296.1 632.9,302.8 633.6,306.2" class="s3"/>
<path d="M524,38.8H554" class="ctl"/>
<text x="569.5" y="44.8" class="lg">Control</text>
<path d="M524,58.9H554" class="s1"/>
<text x="569.5" y="64.9" class="lg">White 5%</text>
<path d="M524,79.1H554" class="s2"/>
<text x="569.5" y="85.1" class="lg">White 10%</text>
<path d="M524,99.2H554" class="s3"/>
<text x="569.5" y="105.2" class="lg">White 15%</text>
<path d="M524,119.4H554" class="rain"/>
<text x="569.5" y="125.4" class="lg">Rain</text>
</g>
<g transform="translate(725.5,0)">
<text x="0.30000000000000004" y="24" class="let">B</text>
<path d="M109,47.8V440.2" class="ax"/>
<path d="M99,47.8H109" class="ax"/>
<text x="88.5" y="54.8" class="tk" text-anchor="end">1.5</text>
<path d="M99,113.2H109" class="ax"/>
<text x="88.5" y="120.2" class="tk" text-anchor="end">1.0</text>
<path d="M99,178.6H109" class="ax"/>
<text x="88.5" y="185.6" class="tk" text-anchor="end">0.5</text>
<path d="M99,244.0H109" class="ax"/>
<text x="88.5" y="251.0" class="tk" text-anchor="end">0.0</text>
<path d="M99,309.4H109" class="ax"/>
<text x="88.5" y="316.4" class="tk" text-anchor="end">-0.5</text>
<path d="M99,374.8H109" class="ax"/>
<text x="88.5" y="381.8" class="tk" text-anchor="end">-1.0</text>
<path d="M99,440.2H109" class="ax"/>
<text x="88.5" y="447.2" class="tk" text-anchor="end">-1.5</text>
<text transform="translate(44.6,230.85) rotate(-90)" class="ti" text-anchor="middle">Difference in Sand Temp (°C)</text>
<path d="M653.5,57.4V427.0" class="ax"/>
<path d="M653.5,427.0H664" class="ax"/>
<text x="673.5" y="434.5" class="tk">0</text>
<path d="M653.5,334.6H664" class="ax"/>
<text x="673.5" y="342.1" class="tk">2</text>
<path d="M653.5,242.2H664" class="ax"/>
<text x="673.5" y="249.7" class="tk">4</text>
<path d="M653.5,149.8H664" class="ax"/>
<text x="673.5" y="157.3" class="tk">6</text>
<path d="M653.5,57.4H664" class="ax"/>
<text x="673.5" y="64.9" class="tk">8</text>
<text transform="translate(710.1,230.85) rotate(-90)" class="ti" text-anchor="middle">Daily Rainfall (cm)</text>
<path d="M195.8,452.8V442.5H603.2V452.8" class="ax"/>
<path d="M297.7,442.5V452.8" class="ax"/>
<path d="M399.5,442.5V452.8" class="ax"/>
<path d="M501.3,442.5V452.8" class="ax"/>
<text x="195.8" y="479.3" class="tk" text-anchor="middle">Jul 18</text>
<text x="297.7" y="479.3" class="tk" text-anchor="middle">Jul 20</text>
<text x="399.5" y="479.3" class="tk" text-anchor="middle">Jul 22</text>
<text x="501.3" y="479.3" class="tk" text-anchor="middle">Jul 24</text>
<text x="603.2" y="479.3" class="tk" text-anchor="middle">Jul 26</text>
<text x="381" y="519.7" class="ti" text-anchor="middle">Date</text>
<path d="M129,244.0H633" class="ctl"/>
<path d="M128.6,421.3 144.3,421.3 147.0,426.7 170.5,426.7 178.6,419.8 194.8,419.8 197.5,426.7 270.5,426.7 275.0,425.4 296.6,425.4 300.0,426.7 322.7,426.7 325.4,390.6 348.8,390.6 350.5,426.7 376.5,426.7 377.5,404.9 379.4,372.2 399.0,372.2 400.9,426.7 484.1,426.7 487.9,408.7 493.5,408.7 498.2,408.7 498.2,393.7 502.9,393.7 502.9,426.7 630.0,426.7" class="rain"/>
<path d="M128.4,230.8 129.4,234.9 130.3,236.7 130.4,238.2 131.4,236.9 132.3,236.8 132.4,235.8 133.4,237.8 134.4,238.5 135.3,240.7 135.4,239.6 136.4,242.5 137.2,242.7 137.4,243.2 138.4,242.6 139.2,240.7 139.4,241.5 140.4,240.8 141.4,241.0 142.2,240.7 142.4,239.9 143.4,237.2 144.2,234.8 144.4,235.3 145.4,234.3 146.4,234.1 147.1,233.8 147.4,233.7 148.4,233.1 149.4,231.8 150.1,228.9 150.4,230.3 151.4,230.7 152.4,230.9 153.0,230.8 153.4,231.6 154.4,229.0 155.4,227.1 156.0,226.9 156.4,226.6 157.4,226.3 158.4,224.5 158.9,223.0 159.4,222.9 160.4,225.2 161.4,225.3 161.9,226.9 162.4,225.4 163.4,225.5 164.4,227.5 164.8,227.9 165.4,230.3 166.4,235.2 167.4,239.3 167.8,242.6 168.4,244.7 169.4,248.2 169.8,250.6 170.4,250.7 171.4,253.2 171.8,255.5 172.4,254.3 173.4,253.8 174.4,251.6 174.7,250.5 175.4,248.9 176.4,245.4 177.4,241.9 177.7,242.7 178.4,240.0 179.4,239.0 180.4,235.4 180.6,234.8 181.4,233.2 182.4,229.2 182.6,228.9 183.4,231.6 184.4,234.2 184.6,234.8 185.4,238.0 186.4,240.5 186.5,240.7 187.4,246.8 188.4,252.7 188.5,254.5 189.4,258.8 190.4,264.7 190.5,266.3 191.4,265.4 192.4,264.8 193.4,262.5 193.4,263.4 194.4,260.7 195.4,259.5 196.4,257.8 196.4,256.5 197.4,256.1 198.4,255.3 199.3,252.5 199.4,252.5 200.4,250.3 201.4,248.6 202.3,246.6 202.4,245.8 203.4,245.9 204.4,245.2 205.4,244.8 206.2,242.7 206.4,242.3 207.4,241.0 208.4,240.1 209.4,239.8 210.2,239.7 210.4,240.4 211.4,240.3 212.4,239.7 213.4,239.8 214.1,238.7 214.4,238.6 215.4,238.4 216.4,237.7 217.1,236.8 217.4,237.2 218.4,239.4 219.1,242.7 219.4,242.8 220.4,247.6 221.0,252.5 221.4,253.1 222.4,253.2 223.4,254.4 224.0,254.5 224.4,254.1 225.4,249.5 226.0,248.6 226.4,245.2 227.4,242.0 228.4,237.7 228.9,234.8 229.4,233.0 230.4,230.6 231.4,230.1 231.9,228.9 232.4,229.6 233.4,227.3 234.4,228.2 235.4,227.5 235.8,226.9 236.4,226.3 237.4,225.0 238.4,225.8 238.8,224.9 239.4,225.9 240.4,229.1 241.4,230.5 241.7,230.8 242.4,228.8 243.4,227.6 244.4,226.9 244.7,225.9 245.4,226.6 246.4,225.1 247.4,224.3 247.7,224.9 248.4,225.9 249.4,227.0 250.4,226.8 251.4,228.2 251.6,226.9 252.4,228.0 253.4,227.0 254.4,228.4 255.4,228.8 255.5,228.9 256.4,228.1 257.4,227.0 258.4,226.4 259.4,224.9 259.5,224.9 260.4,225.1 261.4,226.6 262.4,227.3 263.4,226.9 263.4,226.9 264.4,226.7 265.4,227.5 266.4,226.7 267.4,226.9 268.4,227.9 269.4,226.9 270.4,227.0 271.3,228.9 271.4,229.6 272.4,232.5 273.4,234.2 274.3,236.7 274.4,237.8 275.4,238.6 276.4,240.0 277.2,242.7 277.4,243.6 278.4,244.3 279.4,244.7 280.2,246.6 280.4,246.2 281.4,244.9 282.4,243.0 283.1,242.7 283.4,243.1 284.4,242.2 285.4,240.2 286.4,240.2 287.1,238.7 287.4,238.5 288.4,236.6 289.4,236.0 290.4,234.5 291.0,234.8 291.4,235.2 292.4,236.1 293.4,235.5 294.4,235.4 294.5,234.8 295.4,233.4 296.4,232.9 297.4,230.4 297.5,230.8 298.4,228.5 299.4,226.9 300.4,226.1 300.4,226.9 301.4,226.4 302.4,226.3 303.4,227.9 304.4,228.6 305.4,229.9 306.3,228.9 306.4,230.5 307.4,228.8 308.4,228.5 309.3,228.9 309.4,228.5 310.4,228.0 311.4,226.7 312.2,226.9 312.4,227.1 313.4,225.7 314.2,223.9 314.4,223.6 315.4,225.0 316.4,226.1 317.2,226.9 317.4,226.7 318.4,230.7 319.1,232.8 319.4,235.6 320.4,242.1 321.1,248.6 321.4,250.7 322.4,256.5 323.1,262.4 323.4,262.7 324.4,265.5 325.4,269.1 325.6,271.2 326.4,268.2 327.4,262.5 328.0,260.4 328.4,258.7 329.4,255.3 330.4,252.3 331.0,248.6 331.4,248.4 332.4,244.8 333.4,242.9 333.9,242.7 334.4,241.7 335.4,241.1 336.3,239.7 336.4,239.2 337.4,241.5 338.4,243.0 338.9,244.6 339.4,248.6 340.4,256.6 340.8,260.4 341.4,263.9 342.4,272.2 342.8,276.1 343.4,276.4 344.4,280.3 345.4,283.1 345.8,284.1 346.4,284.7 346.8,287.0 347.4,283.8 348.4,282.3 349.4,279.0 349.7,278.1 350.4,276.3 351.4,274.1 352.4,271.7 352.7,270.3 353.4,269.4 354.4,266.6 355.4,263.5 355.6,264.4 356.4,263.3 357.4,263.7 358.4,261.1 359.4,261.5 359.6,260.4 360.4,260.7 361.4,258.7 362.4,258.0 362.5,256.5 363.4,255.3 364.4,255.0 365.4,252.7 365.5,252.5 366.4,250.1 367.4,249.0 368.4,247.6 368.4,248.6 369.4,250.9 370.4,256.2 370.4,256.5 371.4,257.7 372.4,261.2 373.4,264.3 373.4,264.8 374.4,266.4 375.3,270.3 375.4,269.9 376.4,268.8 377.3,268.3 377.4,268.4 378.4,266.3 379.4,265.4 380.3,264.4 380.4,263.9 381.4,261.1 382.4,258.0 383.2,256.5 383.4,255.0 384.4,253.2 385.4,252.7 386.2,252.5 386.4,252.1 387.4,252.3 388.4,253.0 389.1,254.5 389.4,254.9 390.4,253.6 391.4,251.5 392.1,250.6 392.4,250.1 393.4,251.6 394.4,255.7 395.1,256.5 395.4,256.2 396.4,256.3 397.4,258.8 398.0,258.4 398.4,257.4 399.4,255.3 400.4,253.9 401.0,252.5 401.4,252.5 402.4,252.4 403.4,251.7 404.4,251.7 404.9,251.5 405.4,251.2 406.4,251.7 407.4,250.0 408.4,250.8 408.9,249.6 409.4,249.4 410.4,245.8 411.4,243.3 411.8,243.7 412.4,243.1 413.4,246.3 414.4,248.1 414.8,248.6 415.4,248.6 416.4,248.6 417.4,250.1 417.7,250.6 418.4,249.8 419.4,249.7 420.4,251.2 420.7,250.6 421.4,250.9 422.4,250.8 423.4,252.2 424.4,254.7 424.6,254.5 425.4,255.7 426.4,258.8 426.6,258.4 427.4,255.2 428.4,249.4 428.6,248.6 429.4,242.2 430.4,236.0 430.5,234.8 431.4,228.7 432.4,221.3 433.4,213.7 433.5,213.1 434.4,208.3 435.4,203.8 436.4,199.3 436.5,199.3 437.4,201.2 438.4,201.8 439.4,204.0 439.4,203.2 440.4,206.8 441.4,207.6 442.4,211.1 443.4,215.1 444.4,219.5 445.3,223.0 445.4,223.0 446.4,225.3 447.3,228.9 447.4,228.3 448.4,229.0 449.4,228.7 450.3,228.9 450.4,228.9 451.4,230.5 452.4,229.4 453.2,230.8 453.4,229.9 454.4,230.8 455.4,232.4 456.2,232.8 456.4,233.7 457.4,233.1 458.4,234.0 459.4,234.0 460.1,232.8 460.4,232.1 461.4,232.6 462.4,233.0 463.4,232.4 464.1,232.8 464.4,232.8 465.4,232.0 466.4,232.9 467.4,231.3 468.0,230.8 468.4,229.4 469.4,228.5 469.5,228.9 470.4,232.3 471.4,236.0 472.4,238.8 472.5,238.7 473.4,237.2 474.4,236.4 475.4,236.5 475.4,236.8 476.4,233.1 477.4,230.2 478.4,228.9 479.4,225.0 480.4,221.7 481.3,221.0 481.4,219.2 482.4,217.9 483.4,215.5 484.3,213.1 484.4,211.8 485.4,209.6 486.4,208.3 487.2,207.2 487.4,207.4 488.4,209.5 489.4,213.8 490.2,215.1 490.4,215.1 491.4,219.7 492.2,224.9 492.4,225.0 493.4,233.2 494.1,238.7 494.4,240.4 495.4,245.4 496.4,251.5 497.1,254.5 497.4,255.7 498.4,256.6 499.4,257.8 500.1,258.4 500.4,259.4 501.4,258.5 502.4,257.3 503.0,256.5 503.4,255.6 504.4,255.0 505.4,253.9 506.0,253.5 506.4,253.4 507.4,253.9 508.4,252.8 508.9,252.5 509.4,251.6 510.4,252.3 511.4,252.8 511.9,251.5 512.4,251.5 513.4,251.5 514.4,251.6 514.9,252.5 515.4,252.7 516.4,253.0 517.4,251.6 518.4,252.2 518.8,252.5 519.4,253.8 520.4,253.0 521.4,253.5 521.8,254.5 522.4,254.7 523.4,255.0 524.4,253.6 524.7,252.5 525.4,254.7 526.4,258.9 526.7,260.4 527.4,261.5 528.4,265.6 528.6,266.3 529.4,265.4 530.4,262.1 531.4,258.1 531.6,258.4 532.4,255.8 533.4,252.4 534.4,249.4 534.6,248.6 535.4,246.7 536.4,243.8 537.4,238.6 537.5,238.7 538.4,235.9 539.4,233.5 540.4,230.4 540.5,230.8 541.4,231.5 542.4,232.5 543.4,233.1 543.4,234.8 544.4,236.7 545.4,240.1 546.4,243.8 546.4,244.6 547.4,247.7 548.4,252.2 549.4,254.5 549.4,254.9 550.4,256.5 551.4,257.1 552.3,256.5 552.4,256.9 553.4,255.5 554.4,252.7 555.4,251.8 556.2,250.6 556.4,250.9 557.4,250.2 558.4,249.0 559.4,249.7 560.2,248.6 560.4,248.1 561.4,247.2 562.4,245.8 563.4,244.5 564.1,245.6 564.4,245.0 565.4,246.2 566.4,247.0 567.1,248.6 567.4,247.7 568.4,245.7 569.4,245.3 570.0,244.6 570.4,245.8 571.4,248.2 572.4,249.6 573.4,250.3 574.0,252.5 574.4,252.7 575.4,259.0 576.4,263.7 577.0,266.3 577.4,265.8 578.4,266.7 579.4,267.2 579.9,266.3 580.4,264.5 581.4,260.4 582.4,256.2 582.9,252.5 583.4,250.6 584.4,243.2 585.4,235.8 585.8,232.8 586.4,229.6 587.4,224.6 588.4,217.7 588.8,215.1 589.4,215.2 590.4,214.7 591.4,216.0 592.4,216.7 592.7,217.0 593.4,217.9 594.4,221.7 595.4,224.3 595.7,224.9 596.4,227.2 597.4,231.7 598.4,235.6 598.6,234.8 599.4,237.3 600.4,237.0 601.4,239.4 601.6,238.7 602.4,238.6 603.4,240.3 604.4,241.1 604.6,240.7 605.4,240.5 606.4,239.0 607.4,237.5 607.5,237.7 608.4,236.9 609.4,235.4 610.4,232.9 610.5,232.8 611.4,235.7 612.4,239.9 612.4,240.7 613.4,252.8 613.8,258.4 614.4,253.8 615.4,242.7 616.4,233.8 616.4,232.9 617.4,233.9 618.4,236.0 619.3,236.7 619.4,237.6 620.4,241.9 621.4,244.8 622.3,248.6 622.4,249.2 623.4,253.9 624.4,260.6 625.3,264.4 625.4,265.0 626.4,265.9 627.2,266.3 627.4,266.6 628.4,263.4 629.4,259.5 630.2,254.5 630.4,254.8 631.4,249.0 632.4,243.2 633.1,238.7" class="s1"/>
<path d="M128.4,240.7 129.4,244.4 130.3,250.5 130.4,250.5 131.4,256.3 132.3,262.4 132.4,263.8 133.4,269.1 134.3,276.2 134.4,276.7 135.4,276.9 136.3,276.2 136.4,276.1 137.4,271.9 138.2,266.3 138.4,264.8 139.4,259.1 140.2,254.5 140.4,254.3 141.4,249.5 142.2,244.7 142.4,244.5 143.4,241.0 144.2,236.7 144.4,237.7 145.4,232.4 146.4,228.1 147.1,226.9 147.4,224.9 148.4,224.7 149.4,223.6 150.1,221.0 150.4,221.6 151.4,219.4 152.4,218.6 153.0,217.0 153.4,217.6 154.4,215.8 155.4,213.7 156.0,213.1 156.4,213.6 157.4,212.4 158.4,210.4 158.9,209.2 159.4,208.2 160.4,207.3 160.9,205.2 161.4,207.5 162.4,209.3 162.9,211.1 163.4,208.0 164.4,204.3 165.4,200.5 165.8,197.3 166.4,196.1 167.4,193.4 167.8,191.4 168.4,191.5 169.4,192.8 169.8,192.4 170.4,194.1 171.4,196.7 171.8,198.3 172.4,198.4 173.4,202.3 173.7,203.2 174.4,202.9 175.4,204.6 176.4,206.5 176.7,207.2 177.4,204.7 178.4,204.5 178.7,203.2 179.4,200.4 180.4,196.0 180.6,195.3 181.4,192.5 182.4,188.7 182.6,187.5 183.4,193.8 184.4,202.6 184.6,203.2 185.4,213.2 186.4,224.2 186.5,226.8 187.4,230.0 188.4,232.9 188.5,234.8 189.4,228.7 190.4,221.5 190.5,221.0 191.4,217.0 192.4,212.1 193.4,207.8 193.4,209.1 194.4,204.8 195.4,202.9 196.4,198.3 196.4,199.3 197.4,199.8 198.4,197.9 199.4,198.1 200.3,198.3 200.4,197.7 201.3,192.4 201.4,193.2 202.4,194.8 203.4,196.9 204.3,197.3 204.4,198.3 205.4,198.8 206.4,197.3 207.4,197.5 208.2,196.3 208.4,197.3 209.4,197.3 210.4,198.5 211.2,201.3 211.4,200.7 212.4,200.3 213.4,201.8 214.1,202.2 214.4,202.6 215.4,203.6 216.4,205.2 217.1,204.2 217.4,205.6 218.4,204.8 219.4,206.2 220.1,207.2 220.4,207.6 221.4,211.2 222.4,215.6 223.0,219.0 223.4,220.7 224.4,225.2 225.4,229.7 226.0,232.8 226.4,235.8 227.4,245.9 228.4,255.2 228.9,262.3 229.4,265.6 230.4,275.7 231.4,283.6 231.9,288.0 232.4,290.9 233.4,296.5 234.4,301.1 235.4,307.3 235.8,309.7 236.4,309.3 237.4,305.2 237.8,303.8 238.4,299.8 239.4,294.3 240.4,287.0 240.8,284.1 241.4,279.6 242.4,272.5 243.4,266.2 243.7,264.4 244.4,260.9 245.4,257.3 246.4,253.2 247.4,251.4 247.7,250.6 248.4,249.3 249.4,245.3 250.4,240.8 250.6,240.7 251.4,237.9 252.4,236.6 253.4,234.3 253.6,232.8 254.4,233.1 255.4,230.2 256.4,229.7 257.4,226.8 257.5,226.9 258.4,225.6 259.4,225.7 260.4,224.6 261.4,225.4 261.5,224.9 262.4,224.6 263.4,223.1 264.4,221.5 265.4,219.9 265.4,221.0 266.4,221.6 267.4,221.7 268.4,221.2 269.3,222.0 269.4,220.8 270.4,221.2 271.4,223.6 272.3,224.9 272.4,223.7 273.4,227.9 274.4,232.1 275.3,236.8 275.4,236.7 276.4,243.2 277.4,248.4 278.2,254.5 278.4,256.6 279.4,267.0 280.4,275.6 281.2,284.1 281.4,285.1 282.4,287.4 283.4,292.1 284.1,293.9 284.4,294.4 285.4,300.6 286.4,304.9 287.1,309.7 287.4,309.6 288.4,307.6 289.4,305.5 290.0,303.8 290.4,301.9 291.4,298.1 292.4,293.1 293.0,290.0 293.4,288.4 294.4,285.7 294.5,286.0 295.4,279.2 296.4,271.6 296.5,272.3 297.4,267.2 298.4,265.2 299.4,261.0 299.4,260.4 300.4,258.3 301.4,256.6 302.4,252.4 302.4,252.5 303.4,249.1 304.4,246.1 305.3,242.7 305.4,243.3 306.4,240.7 307.4,237.6 308.3,236.8 308.4,237.1 309.4,234.8 310.4,233.7 311.3,232.8 311.4,231.8 312.4,231.0 313.4,229.9 314.2,228.9 314.4,227.8 315.4,226.8 316.4,226.7 317.2,225.9 317.4,227.1 318.4,228.7 319.4,231.1 320.1,232.8 320.4,232.2 321.4,234.3 322.4,237.3 323.1,238.7 323.4,238.8 324.4,241.5 325.4,244.9 325.6,247.6 326.4,241.7 327.4,233.7 328.0,228.9 328.4,227.8 329.4,225.8 330.4,221.4 331.0,220.0 331.4,222.2 332.4,224.9 332.9,226.9 333.4,227.5 334.4,231.8 334.9,234.8 335.4,234.5 336.4,232.9 336.9,232.8 337.4,229.4 338.4,225.9 338.9,224.9 339.4,226.8 340.4,233.0 340.8,234.8 341.4,231.2 342.4,226.1 342.8,224.9 343.4,222.8 344.4,221.3 345.4,219.5 345.8,219.0 346.4,216.6 347.4,214.9 348.4,212.4 348.7,213.1 349.4,212.0 350.4,211.8 351.4,209.3 351.7,209.1 352.4,209.4 353.4,209.6 354.4,207.7 354.6,208.2 355.4,209.7 356.4,210.0 357.4,210.8 357.6,211.1 358.4,211.4 359.4,211.1 360.4,211.3 360.6,213.1 361.4,211.6 362.4,213.2 363.4,214.2 363.5,213.1 364.4,214.2 365.4,214.1 366.4,214.5 366.5,215.1 367.4,212.8 368.4,210.3 369.4,208.3 369.4,209.2 370.4,205.0 371.4,200.3 371.4,201.3 372.4,200.1 373.4,200.3 373.4,200.7 374.4,203.5 375.4,204.3 376.3,207.2 376.4,206.8 377.4,212.1 378.4,216.9 379.3,219.0 379.4,220.7 380.4,218.2 381.4,214.5 382.2,213.1 382.4,213.9 383.4,213.1 384.4,209.7 385.2,209.2 385.4,209.5 386.4,213.1 387.4,214.5 388.1,217.0 388.4,218.1 389.4,223.4 390.4,229.7 391.1,234.8 391.4,234.6 392.4,234.7 393.4,234.2 394.1,235.8 394.4,233.6 395.4,232.6 396.4,233.7 397.0,232.8 397.4,231.3 398.4,229.0 399.4,227.7 400.0,224.9 400.4,225.8 401.4,224.4 402.4,221.6 402.9,221.0 403.4,220.9 404.4,220.6 405.4,222.0 405.9,223.0 406.4,221.8 407.4,222.9 408.4,224.7 408.9,224.9 409.4,224.1 410.4,226.4 411.4,225.7 412.4,225.8 412.8,226.9 413.4,226.2 414.4,227.3 415.4,229.1 415.8,228.9 416.4,228.3 417.4,230.4 418.4,231.8 418.7,230.8 419.4,230.8 420.4,229.0 421.4,226.3 421.7,226.9 422.4,226.7 423.4,226.8 424.4,227.0 424.6,225.9 425.4,227.8 426.4,228.4 427.4,230.2 427.6,230.8 428.4,232.6 429.4,234.8 430.4,234.0 430.5,234.8 431.4,237.1 432.4,238.2 433.4,241.1 434.4,243.8 434.5,243.6 435.4,241.1 436.4,238.8 437.4,236.8 437.4,236.8 438.4,231.7 439.4,229.7 440.4,224.8 440.4,224.9 441.4,221.0 442.4,218.8 443.4,217.0 443.4,217.8 444.4,215.3 445.4,213.9 446.3,211.1 446.4,212.5 447.4,211.5 448.4,211.1 449.3,209.1 449.4,208.6 450.4,208.8 451.4,209.6 452.2,209.1 452.4,208.8 453.4,208.2 454.4,207.7 455.2,207.2 455.4,208.2 456.4,205.9 457.4,206.4 458.1,205.2 458.4,205.3 459.4,203.7 460.4,202.3 461.1,200.3 461.4,200.7 462.4,201.6 463.4,200.8 464.1,202.2 464.4,201.5 465.4,203.5 466.4,205.5 467.0,205.2 467.4,206.0 468.4,205.7 469.4,207.4 469.5,207.2 470.4,201.7 471.4,196.1 471.5,195.4 472.4,195.4 473.4,195.1 474.4,192.3 474.4,192.4 475.4,193.4 476.4,192.0 477.4,192.9 477.4,192.4 478.4,195.8 479.4,196.3 480.3,199.3 480.4,199.6 481.4,204.9 482.4,208.6 483.3,213.1 483.4,212.7 484.4,222.7 485.3,232.8 485.4,232.4 486.4,246.8 487.2,260.3 487.4,262.2 488.4,272.3 488.6,273.2 489.4,268.8 490.2,264.4 490.4,264.1 491.4,263.6 492.2,263.4 492.4,264.1 493.4,267.4 494.1,268.3 494.4,265.7 495.4,256.7 496.1,250.5 496.4,247.6 497.4,240.9 498.4,235.9 499.1,230.9 499.4,229.7 500.4,225.0 501.4,219.5 502.0,217.0 502.4,214.9 503.4,214.7 504.4,212.3 505.0,211.1 505.4,211.0 506.4,210.7 507.4,210.1 507.9,210.1 508.4,212.3 509.4,213.5 509.9,215.1 510.4,215.5 511.4,214.2 512.4,213.7 512.9,212.1 513.4,212.1 514.4,209.5 515.4,210.3 515.8,209.2 516.4,209.8 517.4,210.9 518.4,213.9 518.8,215.1 519.4,213.2 520.4,212.1 520.8,211.1 521.4,208.9 522.4,207.2 522.7,205.2 523.4,203.0 524.4,200.0 525.4,196.2 525.7,196.3 526.4,195.9 527.4,198.3 528.4,198.8 528.6,200.3 529.4,201.8 530.4,205.0 531.4,207.9 531.6,209.2 532.4,212.6 533.4,214.7 534.4,218.7 534.6,219.0 535.4,222.9 536.4,229.0 537.4,235.5 537.5,236.7 538.4,245.4 539.4,252.7 539.5,254.5 540.4,265.7 541.4,277.7 541.5,278.1 542.4,276.0 543.4,272.9 543.4,274.2 544.4,269.4 545.4,265.3 546.4,261.9 546.4,260.4 547.4,256.1 548.4,251.6 549.4,248.6 549.4,247.6 550.4,244.8 551.4,241.7 552.3,240.7 552.4,239.1 553.4,237.2 554.4,233.9 555.3,232.8 555.4,233.1 556.4,230.9 557.4,227.8 558.2,224.9 558.4,226.0 559.4,224.0 560.4,221.4 561.2,219.0 561.4,219.8 562.4,217.0 563.4,216.6 564.1,215.1 564.4,215.9 565.4,214.8 566.4,214.8 567.1,213.1 567.4,213.1 568.4,211.3 569.4,210.0 570.0,211.1 570.4,209.7 571.4,206.7 572.0,205.2 572.4,203.2 573.4,200.1 574.4,196.6 575.0,193.4 575.4,193.8 576.4,191.7 577.4,191.1 577.9,191.4 578.4,192.8 579.4,194.4 580.4,197.1 580.9,197.3 581.4,199.7 582.4,202.5 583.4,205.2 583.9,205.2 584.4,205.9 585.4,207.5 586.4,211.0 586.8,211.1 587.4,214.9 588.4,217.6 589.4,221.0 589.8,223.0 590.4,226.5 591.4,233.5 591.7,234.8 592.4,237.3 593.4,243.5 593.7,244.6 594.4,245.3 595.4,242.6 595.7,242.7 596.4,239.5 597.4,237.9 598.4,236.5 598.6,234.8 599.4,234.9 600.4,235.7 601.4,235.9 601.6,234.8 602.4,235.8 603.4,234.1 604.4,231.9 604.6,232.8 605.4,232.0 606.4,230.0 607.4,228.7 607.5,228.9 608.4,227.6 609.4,227.3 610.4,227.2 610.5,226.9 611.4,227.4 612.4,224.7 612.4,224.9 613.4,246.3 613.4,248.6 614.4,239.0 615.4,228.7 615.4,228.9 616.4,221.9 617.4,217.0 618.4,217.5 619.4,217.6 620.3,219.0 620.4,219.7 621.4,223.7 622.4,226.4 623.3,228.9 623.4,228.2 624.4,232.1 625.3,234.7 625.4,232.3 626.4,221.7 627.2,213.1 627.4,210.6 628.4,203.2 629.2,195.3 629.4,194.9 630.4,188.1 631.2,181.6 631.4,182.5 632.4,178.7 633.1,174.7" class="s2"/>
<path d="M128.4,266.3 129.4,270.7 130.3,274.2 130.4,273.2 131.4,274.6 132.4,277.2 133.3,278.2 133.4,278.9 134.4,276.1 135.4,273.9 136.3,270.3 136.4,270.6 137.4,262.9 138.4,257.5 139.2,252.5 139.4,251.2 140.4,242.1 141.2,234.8 141.4,233.8 142.4,229.2 143.4,224.5 144.2,221.0 144.4,221.0 145.4,214.4 146.4,208.6 147.1,205.2 147.4,205.6 148.4,203.4 149.4,201.3 150.1,198.3 150.4,198.8 151.4,198.7 152.4,199.0 153.4,198.6 154.0,197.3 154.4,197.9 155.4,196.0 156.4,194.1 157.4,194.5 157.9,193.4 158.4,192.5 159.4,191.9 160.4,192.2 161.4,191.2 161.9,192.4 162.4,192.1 163.4,193.6 164.4,193.6 165.4,193.9 165.8,193.4 166.4,196.6 167.4,201.9 167.8,203.2 168.4,207.8 169.4,213.9 169.8,215.1 170.4,220.8 171.4,225.6 172.4,233.0 172.7,234.8 173.4,238.3 174.4,241.5 174.7,242.7 175.4,242.4 176.4,241.6 176.7,240.7 177.4,234.7 178.4,225.6 178.7,222.9 179.4,215.2 180.4,204.9 180.6,203.2 181.4,197.6 182.4,191.7 182.6,191.4 183.4,198.3 184.4,206.6 184.6,207.2 185.4,213.8 186.4,219.8 187.4,227.6 187.5,228.9 188.4,223.1 189.4,218.3 189.5,217.0 190.4,209.9 191.4,201.7 192.4,194.9 192.4,193.4 193.4,188.0 194.4,180.5 195.4,171.9 195.4,171.7 196.4,171.2 197.4,169.2 198.4,168.7 198.4,169.7 199.4,168.2 200.4,168.7 201.4,167.6 202.3,168.7 202.4,168.3 203.4,168.3 204.4,168.2 205.3,169.7 205.4,168.3 206.4,171.0 207.4,174.2 208.2,175.6 208.4,176.8 209.4,179.4 210.4,181.3 211.2,183.5 211.4,184.8 212.4,185.1 213.4,186.4 214.1,189.4 214.4,188.2 215.4,192.0 216.4,192.7 217.1,195.3 217.4,194.8 218.4,199.9 219.4,203.6 220.1,205.2 220.4,206.9 221.4,212.4 222.0,215.0 222.4,217.0 223.4,222.6 224.4,229.0 225.0,234.8 225.4,238.9 226.4,249.9 227.4,259.7 227.9,264.4 228.4,268.4 229.4,277.1 229.9,280.1 230.4,282.6 231.4,287.4 231.9,290.0 232.4,288.7 233.4,284.8 233.8,284.1 234.4,279.8 235.4,272.5 236.4,267.7 236.8,264.4 237.4,259.5 238.4,250.1 239.4,240.8 239.8,238.7 240.4,233.4 241.4,225.2 242.4,217.7 242.7,215.0 243.4,213.4 244.4,208.0 245.4,205.1 245.7,203.2 246.4,203.8 247.4,200.9 248.4,200.5 248.6,199.3 249.4,198.1 250.4,196.8 251.4,195.9 251.6,197.3 252.4,196.0 253.4,196.6 254.4,196.4 255.4,197.6 255.5,197.3 256.4,195.9 257.4,194.2 257.5,194.4 258.4,194.7 259.4,194.7 260.4,197.8 261.4,198.7 261.5,198.3 262.4,198.9 263.4,199.5 264.4,199.1 265.4,200.6 265.4,201.3 266.4,201.7 267.4,203.8 268.4,205.0 269.3,207.2 269.4,206.3 270.4,210.5 271.4,212.7 272.3,217.0 272.4,216.1 273.4,221.4 274.4,227.9 275.3,232.8 275.4,232.5 276.4,241.9 277.4,249.4 278.2,256.4 278.4,258.3 279.4,265.0 280.4,271.0 281.2,278.1 281.4,278.9 282.4,279.2 283.4,281.6 284.1,282.1 284.4,282.7 285.4,285.0 286.1,286.0 286.4,284.6 287.4,279.2 288.4,273.6 289.1,268.3 289.4,267.6 290.4,263.6 291.0,262.4 291.4,259.7 292.4,254.3 293.4,245.7 294.4,238.4 294.5,238.7 295.4,235.1 296.4,233.1 296.5,232.8 297.4,231.0 298.4,227.5 299.4,225.5 299.4,224.9 300.4,222.8 301.4,221.2 302.4,219.8 302.4,219.0 303.4,218.6 304.4,215.2 305.3,213.1 305.4,212.9 306.4,210.8 307.4,209.5 308.3,209.1 308.4,208.7 309.4,206.7 310.4,205.8 311.3,205.2 311.4,204.7 312.4,204.0 313.4,203.7 314.2,201.3 314.4,201.4 315.4,201.5 316.4,203.1 317.2,205.2 317.4,204.5 318.4,208.0 319.4,213.1 319.7,215.1 320.4,221.4 321.4,231.5 322.1,236.7 322.4,239.7 323.4,250.1 324.1,256.4 324.4,259.7 325.4,266.1 325.6,268.3 326.4,261.5 327.4,250.5 327.6,248.6 328.4,238.7 329.4,225.3 330.0,215.1 330.4,214.7 331.4,207.8 332.0,205.2 332.4,208.9 333.4,220.0 333.9,224.9 334.4,225.6 335.4,224.4 336.4,221.7 336.9,221.0 337.4,218.5 338.4,216.1 339.4,213.7 339.9,211.1 340.4,209.1 341.4,204.7 342.4,200.1 342.8,197.3 343.4,195.2 344.4,191.3 345.4,187.1 345.8,185.5 346.4,182.6 347.4,180.3 348.4,176.9 348.7,175.6 349.4,175.2 350.4,174.2 351.4,174.0 351.7,172.7 352.4,172.6 353.4,174.2 354.4,175.9 354.6,175.6 355.4,178.6 356.4,179.6 357.4,181.0 357.6,181.5 358.4,181.2 359.4,182.6 360.4,182.8 361.4,184.8 361.5,185.5 362.4,186.1 363.4,186.5 364.4,189.1 364.5,189.4 365.4,191.2 366.4,194.3 367.4,196.4 367.4,197.3 368.4,199.9 369.4,204.0 370.4,207.9 370.4,209.2 371.4,215.6 372.4,221.5 373.4,226.9 373.4,227.8 374.4,233.5 375.4,238.9 376.3,242.7 376.4,244.7 377.4,250.8 378.4,255.7 378.9,258.4 379.4,254.3 380.4,244.3 381.2,234.8 381.4,235.1 382.4,226.3 383.4,217.1 384.2,209.1 384.4,209.5 385.4,208.0 386.4,208.0 387.2,206.2 387.4,206.1 388.4,208.7 389.4,213.0 390.1,215.1 390.4,216.7 391.4,220.6 392.1,224.9 392.4,225.1 393.4,226.6 394.4,227.1 395.1,228.9 395.4,228.6 396.4,224.4 397.4,222.6 398.0,221.0 398.4,221.0 399.4,220.4 400.4,219.1 401.0,217.0 401.4,216.4 402.4,215.3 403.4,212.6 403.9,213.1 404.4,213.8 405.4,216.1 406.4,216.5 406.9,217.0 407.4,216.4 408.4,217.4 409.4,218.4 410.4,219.4 410.8,218.0 411.4,219.3 412.4,220.8 413.4,219.7 414.4,221.0 414.8,221.0 415.4,222.8 416.4,223.7 417.4,225.3 418.4,227.3 418.7,226.9 419.4,230.2 420.4,230.9 421.4,232.8 422.4,234.8 422.6,236.7 423.4,240.2 424.4,245.7 425.4,250.4 425.6,250.5 426.4,255.1 427.4,260.8 428.4,265.5 428.6,266.3 429.4,271.5 430.4,277.9 431.4,285.5 431.5,286.0 432.4,288.1 433.4,290.1 434.4,293.5 434.9,294.9 435.4,291.7 436.4,287.4 437.4,283.3 437.4,284.1 438.4,276.5 439.4,268.2 440.4,260.1 440.4,260.4 441.4,251.0 442.4,243.9 443.4,234.8 443.4,236.2 444.4,230.6 445.4,223.5 446.3,217.1 446.4,216.0 447.4,215.1 448.4,212.4 449.3,209.2 449.4,208.7 450.4,208.7 451.4,208.0 452.2,209.1 452.4,207.6 453.4,206.6 454.4,206.4 455.2,207.2 455.4,205.8 456.4,203.9 457.4,200.2 458.1,199.3 458.4,198.8 459.4,197.6 460.4,194.2 461.1,193.4 461.4,193.6 462.4,195.5 463.4,195.9 464.1,197.3 464.4,197.2 465.4,198.0 466.4,199.1 467.4,199.3 468.0,200.3 468.4,201.0 469.4,202.7 469.5,202.2 470.4,204.0 471.4,204.9 471.5,205.2 472.4,208.1 473.4,211.0 474.4,214.6 474.4,215.1 475.4,217.9 476.4,222.2 477.4,225.8 477.4,226.9 478.4,232.3 479.4,236.6 480.3,242.6 480.4,241.8 481.4,247.4 482.4,253.2 483.3,258.4 483.4,259.3 484.4,265.5 485.3,270.3 485.4,271.7 486.4,282.0 487.2,289.9 487.4,288.7 488.4,282.1 489.2,278.1 489.4,277.4 490.4,271.2 491.2,264.4 491.4,264.2 492.4,262.4 493.2,262.4 493.4,260.8 494.4,253.5 495.1,248.6 495.4,246.7 496.4,239.4 497.4,230.0 498.1,224.9 498.4,222.3 499.4,217.3 500.4,211.4 501.1,205.2 501.4,204.4 502.4,200.8 503.4,197.2 504.0,193.4 504.4,193.6 505.4,192.1 506.4,189.4 507.0,189.4 507.4,188.3 508.4,190.8 509.4,191.2 509.9,192.4 510.4,192.5 511.4,191.2 512.4,192.2 513.4,191.9 513.9,191.4 514.4,191.2 515.4,190.2 516.4,191.4 517.4,192.6 517.8,191.4 518.4,192.4 519.4,194.4 520.4,195.0 520.8,196.3 521.4,196.5 522.4,196.7 523.4,197.5 523.7,199.3 524.4,202.0 525.4,207.3 526.4,212.3 526.7,213.1 527.4,219.3 528.4,224.0 529.4,229.9 529.6,232.8 530.4,235.5 531.4,241.2 532.4,247.5 532.6,248.6 533.4,252.5 534.4,257.2 535.4,260.1 535.5,260.4 536.4,264.2 537.4,268.1 538.4,271.0 538.5,272.3 539.4,275.8 540.4,281.8 541.1,286.0 541.4,283.6 542.4,277.9 543.4,273.5 543.4,274.2 544.4,268.1 545.4,260.0 546.4,252.9 546.4,252.5 547.4,245.3 548.4,235.1 549.4,226.9 549.4,226.1 550.4,222.1 551.4,218.4 552.3,217.0 552.4,215.4 553.4,212.6 554.4,211.4 555.4,209.4 556.2,207.2 556.4,206.1 557.4,203.6 558.4,200.0 559.4,197.2 560.2,193.4 560.4,193.2 561.4,190.1 562.4,188.7 563.4,188.1 564.1,186.5 564.4,186.6 565.4,188.6 566.4,189.5 567.1,188.4 567.4,188.8 568.4,189.1 569.4,189.0 570.0,187.5 570.4,189.0 571.4,190.0 572.4,190.2 573.4,191.2 574.0,192.4 574.4,193.9 575.4,197.6 576.4,201.3 577.0,205.2 577.4,207.1 578.4,214.0 579.4,220.9 579.9,224.9 580.4,227.3 581.4,232.8 582.4,239.4 582.9,242.7 583.4,243.7 584.4,247.9 585.4,250.5 585.8,252.5 586.4,253.7 587.4,252.8 588.4,253.4 588.8,254.5 589.4,256.8 590.4,258.2 591.4,260.2 591.7,262.4 592.4,258.7 593.4,253.8 594.4,247.0 594.7,244.6 595.4,241.9 596.4,236.5 597.4,229.0 597.6,226.9 598.4,225.0 599.4,221.6 600.4,217.9 601.4,212.5 601.6,211.1 602.4,210.4 603.4,210.4 604.4,209.4 605.4,208.0 605.5,209.1 606.4,208.1 607.4,209.1 608.4,209.1 609.4,207.9 609.5,209.1 610.4,206.1 611.4,205.5 611.5,206.2 612.4,216.9 613.0,224.9 613.4,224.0 614.4,219.4 614.4,219.0 615.4,208.8 616.4,198.0 616.4,197.4 617.4,198.9 618.4,198.6 619.3,200.3 619.4,201.2 620.4,205.6 621.4,209.6 622.3,211.1 622.4,212.6 623.4,218.1 624.4,222.2 625.3,226.9 625.4,225.3 626.4,221.6 627.4,217.9 628.2,217.0 628.4,215.8 629.4,215.2 630.4,213.1 631.2,213.1 631.4,213.1 632.4,215.2 633.1,217.0" class="s3"/>
<path d="M526,38.8H556" class="ctl"/>
<text x="571.5" y="44.8" class="lg">Control</text>
<path d="M526,58.9H556" class="s1"/>
<text x="571.5" y="64.9" class="lg">Black 5%</text>
<path d="M526,79.1H556" class="s2"/>
<text x="571.5" y="85.1" class="lg">Black 10%</text>
<path d="M526,99.2H556" class="s3"/>
<text x="571.5" y="105.2" class="lg">Black 15%</text>
<path d="M526,119.4H556" class="rain"/>
<text x="571.5" y="125.4" class="lg">Rain</text>
</g>
<g transform="translate(0,544.0)">
<text x="-0.19999999999999996" y="12.7" class="let">C</text>
<path d="M109,47.8V440.2" class="ax"/>
<path d="M99,47.8H109" class="ax"/>
<text x="88.5" y="54.8" class="tk" text-anchor="end">1.5</text>
<path d="M99,113.2H109" class="ax"/>
<text x="88.5" y="120.2" class="tk" text-anchor="end">1.0</text>
<path d="M99,178.6H109" class="ax"/>
<text x="88.5" y="185.6" class="tk" text-anchor="end">0.5</text>
<path d="M99,244.0H109" class="ax"/>
<text x="88.5" y="251.0" class="tk" text-anchor="end">0.0</text>
<path d="M99,309.4H109" class="ax"/>
<text x="88.5" y="316.4" class="tk" text-anchor="end">-0.5</text>
<path d="M99,374.8H109" class="ax"/>
<text x="88.5" y="381.8" class="tk" text-anchor="end">-1.0</text>
<path d="M99,440.2H109" class="ax"/>
<text x="88.5" y="447.2" class="tk" text-anchor="end">-1.5</text>
<text transform="translate(44.6,230.85) rotate(-90)" class="ti" text-anchor="middle">Difference in Sand Temp (°C)</text>
<path d="M653.5,57.4V427.0" class="ax"/>
<path d="M653.5,427.0H664" class="ax"/>
<text x="673.5" y="434.5" class="tk">0</text>
<path d="M653.5,334.6H664" class="ax"/>
<text x="673.5" y="342.1" class="tk">2</text>
<path d="M653.5,242.2H664" class="ax"/>
<text x="673.5" y="249.7" class="tk">4</text>
<path d="M653.5,149.8H664" class="ax"/>
<text x="673.5" y="157.3" class="tk">6</text>
<path d="M653.5,57.4H664" class="ax"/>
<text x="673.5" y="64.9" class="tk">8</text>
<text transform="translate(710.1,230.85) rotate(-90)" class="ti" text-anchor="middle">Daily Rainfall (cm)</text>
<path d="M177,452.8V442.5H547V452.8" class="ax"/>
<path d="M362,442.5V452.8" class="ax"/>
<text x="177" y="479.3" class="tk" text-anchor="middle">Aug 22</text>
<text x="362" y="479.3" class="tk" text-anchor="middle">Aug 27</text>
<text x="547" y="479.3" class="tk" text-anchor="middle">Sep 01</text>
<text x="381" y="519.7" class="ti" text-anchor="middle">Date</text>
<path d="M129,244.0H633" class="ctl"/>
<path d="M129.0,416.2 135.9,416.2 136.5,409.6 139.0,409.6 139.6,426.5 141.0,426.5 152.7,422.3 176.1,422.3 178.0,426.5 319.3,426.5 321.7,403.6 324.9,403.6 326.0,426.5 369.8,426.5 371.7,400.3 375.3,336.0 376.5,41.2 399.1,41.2 399.3,426.5 402.0,426.5 404.3,421.4 434.3,421.4 437.0,426.5 457.7,426.5 459.5,408.7 471.7,408.7 473.5,426.5 493.8,426.5 496.0,402.1 509.1,399.7 510.6,426.5 542.8,426.5 545.0,425.5 562.4,425.5 563.4,364.7 583.0,364.7 584.3,426.1 612.0,426.1 618.6,402.1 621.4,402.1 621.4,426.5 631.7,426.5" class="rain"/>
<path d="M129.1,207.9 130.1,212.9 131.1,216.2 131.1,215.7 132.1,218.2 133.1,220.9 133.3,221.7 134.1,224.7 135.1,229.2 135.2,230.0 136.1,232.1 137.1,235.7 137.2,236.9 138.1,240.6 139.1,244.5 139.4,243.8 140.1,240.6 141.1,235.7 142.1,229.7 142.2,230.0 143.1,226.7 144.1,223.6 144.9,218.9 145.1,220.3 146.1,218.4 147.1,215.9 147.7,213.4 148.1,213.8 149.1,211.3 150.1,210.2 150.5,210.6 151.1,207.9 152.1,205.3 153.1,202.0 153.2,202.3 154.1,199.8 155.1,198.3 156.0,195.4 156.1,195.7 157.1,200.1 158.1,202.3 158.8,205.1 159.1,206.4 160.1,211.6 161.1,213.8 161.5,216.2 162.1,219.0 163.1,221.7 163.8,224.5 164.1,224.3 165.1,225.6 166.1,225.4 167.1,224.5 167.1,224.9 168.1,227.4 169.1,230.5 169.8,232.8 170.1,230.3 171.1,226.2 172.1,220.4 172.6,218.9 173.1,218.5 174.1,218.6 175.1,216.7 175.4,216.2 176.1,214.2 177.1,212.2 178.1,209.9 178.2,210.6 179.1,207.1 180.1,207.1 180.9,205.1 181.1,205.4 182.1,204.9 183.1,201.6 184.1,200.3 185.1,199.5 185.1,200.2 186.1,198.2 187.1,197.0 188.1,196.3 189.1,195.8 189.2,196.8 190.1,195.2 191.1,194.4 192.1,191.6 192.6,191.2 193.1,193.8 194.1,197.1 195.1,200.5 195.3,202.3 196.1,203.4 197.1,205.3 198.1,209.3 198.9,210.6 199.1,211.1 200.1,213.6 201.1,214.1 202.1,217.1 203.1,218.9 203.1,218.4 204.1,215.5 205.1,211.6 205.8,207.8 206.1,206.0 207.1,200.6 208.1,194.7 208.6,192.6 209.1,193.5 210.1,195.0 211.1,198.6 211.4,199.5 212.1,202.0 213.1,203.8 214.1,204.9 214.2,205.1 215.1,205.4 216.1,205.5 217.1,207.5 218.1,209.1 218.3,209.2 219.1,209.1 220.1,208.3 221.1,205.8 222.1,206.2 222.5,205.1 223.1,204.4 224.1,203.1 225.1,201.1 226.1,198.9 226.6,199.5 227.1,197.5 228.1,195.9 229.1,193.6 230.1,192.0 230.8,191.2 231.1,192.9 232.1,195.3 233.1,195.3 234.1,198.9 234.9,199.5 235.1,201.3 236.1,202.4 237.1,202.2 237.7,202.3 238.1,203.6 239.1,205.3 240.1,205.7 241.1,207.6 241.8,207.8 242.1,205.4 243.1,197.4 244.1,191.5 245.1,183.2 245.2,184.3 246.1,187.5 247.1,191.1 247.9,194.0 248.1,194.1 249.1,197.6 250.1,199.4 251.1,201.5 251.5,202.3 252.1,204.6 253.1,205.1 254.1,207.5 255.1,208.8 255.7,210.6 256.1,208.9 257.1,207.3 258.1,204.9 259.1,202.3 259.9,202.3 260.1,201.5 261.1,199.8 262.1,196.5 263.1,195.3 264.0,194.0 264.1,192.4 265.1,188.1 266.1,183.8 267.1,181.3 268.1,176.6 268.2,177.4 269.1,175.8 270.1,177.0 270.9,177.4 271.1,178.7 272.1,185.6 273.1,190.0 273.7,194.0 274.1,195.5 275.1,201.6 276.1,205.5 277.1,210.9 277.9,214.8 278.1,211.2 279.1,202.2 280.1,194.2 280.6,191.2 281.1,183.6 282.1,172.1 283.1,162.1 283.4,159.4 284.1,162.6 285.1,166.8 286.1,170.1 286.2,169.1 287.1,174.7 288.1,178.5 288.9,182.9 289.1,181.8 290.1,181.3 291.1,182.9 292.1,182.4 293.1,182.9 293.1,182.0 294.1,181.6 295.0,182.9 295.1,183.2 296.1,185.3 297.1,185.2 298.1,188.0 299.1,188.2 299.1,188.5 300.1,187.8 301.1,188.9 301.9,189.8 302.1,189.0 303.1,188.0 304.1,186.7 305.1,183.6 306.1,181.6 306.1,181.3 307.1,188.2 308.1,194.8 308.9,199.5 309.1,200.8 310.1,202.8 311.1,205.3 311.6,205.1 312.1,205.6 313.1,207.3 314.1,208.2 314.4,207.8 315.1,203.0 316.1,196.1 317.1,190.9 317.1,191.3 318.1,177.8 319.1,167.0 319.4,163.5 320.1,170.3 321.1,180.2 322.1,191.2 323.1,188.9 324.1,186.7 324.9,185.7 325.1,184.4 326.1,180.3 327.1,176.6 328.1,174.1 328.2,174.6 329.1,176.9 330.1,180.8 331.0,185.7 331.1,184.3 332.1,187.7 333.1,188.6 334.1,190.8 335.1,193.6 335.2,194.0 336.1,193.2 337.1,192.5 338.1,191.5 339.1,190.6 339.3,188.5 340.1,190.7 341.1,194.1 342.1,195.9 343.1,198.9 343.5,199.5 344.1,203.2 345.1,207.1 346.1,210.8 347.1,215.1 347.6,216.2 348.1,216.4 349.1,217.4 350.1,217.7 351.1,219.6 351.8,218.9 352.1,216.6 353.1,205.6 354.1,196.3 354.5,191.2 355.1,183.9 356.1,173.1 357.1,163.5 357.3,160.8 358.1,163.6 359.1,166.0 360.1,169.1 360.1,170.1 361.1,171.7 362.1,174.2 363.1,174.8 364.1,177.5 364.2,177.4 365.1,179.6 366.1,183.2 367.1,186.0 368.1,189.2 368.4,188.5 369.1,190.3 370.1,191.0 371.1,191.9 372.1,192.8 372.5,191.2 373.1,194.4 374.1,199.3 375.1,203.0 375.3,205.1 376.1,274.2 377.1,262.6 378.1,252.2 378.1,251.8 379.1,244.6 380.1,237.4 381.1,231.9 381.4,230.0 382.1,233.4 383.1,237.5 384.1,241.9 384.2,241.1 385.1,250.7 386.1,258.6 386.9,266.0 387.1,267.6 388.1,280.0 389.1,292.9 390.1,307.8 390.5,313.1 391.1,305.8 392.1,294.9 393.1,281.8 393.3,279.9 394.1,266.1 395.1,250.9 396.1,235.5 396.1,234.7 397.1,229.3 398.1,223.9 398.9,221.7 399.1,221.1 400.1,220.6 401.1,219.8 402.1,218.7 403.0,216.2 403.1,215.6 404.1,214.4 405.1,214.2 406.1,215.1 407.1,214.2 407.2,213.4 408.1,212.1 409.1,211.1 410.1,209.1 410.8,207.9 411.1,209.9 412.1,212.9 413.1,214.6 414.1,218.1 414.6,218.9 415.1,222.9 416.1,232.8 417.1,242.0 418.1,252.1 418.2,252.1 419.1,255.2 420.1,258.4 421.1,264.4 422.1,268.4 422.4,268.8 423.1,270.5 424.1,274.9 425.1,278.2 426.1,282.1 426.5,282.6 427.1,280.4 428.1,273.7 429.1,267.4 430.1,260.2 430.7,257.7 431.1,253.2 432.1,246.2 433.1,239.8 434.1,234.7 434.9,230.0 435.1,229.7 436.1,225.1 437.1,220.9 438.1,216.6 439.0,210.6 439.1,212.2 440.1,209.2 441.1,206.0 442.1,204.6 443.1,201.5 443.2,202.3 444.1,201.4 445.1,200.3 446.1,199.2 447.1,197.3 447.3,196.8 448.1,197.6 449.1,197.1 450.1,197.6 451.1,198.5 451.5,199.6 452.1,202.1 453.1,205.2 454.1,209.2 455.1,213.2 455.6,216.2 456.1,217.4 457.1,220.5 458.1,224.9 459.1,226.9 459.8,230.0 460.1,226.5 461.1,222.0 462.1,215.7 462.5,213.4 463.1,210.8 464.1,208.0 465.1,205.1 466.1,202.8 466.7,202.3 467.1,200.7 468.1,200.7 469.1,199.1 470.0,196.8 470.1,197.4 471.1,197.1 472.1,197.7 473.1,198.8 474.1,199.5 474.1,199.5 475.1,200.9 476.1,204.1 477.1,207.4 478.1,210.9 478.3,210.6 479.1,211.3 480.1,213.0 481.1,213.6 482.1,213.5 482.5,213.4 483.1,213.4 484.1,213.0 485.1,212.6 486.1,212.1 486.6,213.4 487.1,212.7 488.1,214.7 489.1,215.6 490.1,217.8 490.8,218.9 491.1,219.2 492.1,224.9 493.1,229.0 494.1,233.2 494.4,235.5 495.1,239.3 496.1,246.9 497.1,254.9 498.1,251.6 499.1,246.2 499.9,243.9 500.1,243.6 501.1,243.4 502.1,242.5 503.1,242.0 503.2,243.9 504.1,238.4 505.1,234.5 506.1,232.0 507.1,228.2 507.4,227.2 508.1,227.2 509.1,224.4 510.1,222.8 511.1,222.9 511.5,221.7 512.1,222.4 513.1,220.0 514.1,218.4 515.1,216.4 515.7,216.2 516.1,217.1 517.1,216.2 518.1,216.5 519.1,216.8 519.9,216.2 520.1,215.8 521.1,215.1 522.1,213.7 523.1,213.1 524.0,213.4 524.1,213.5 525.1,218.6 526.1,222.4 527.1,225.7 528.1,230.5 528.2,230.0 529.1,236.9 530.1,244.6 531.1,250.6 531.5,252.2 532.1,255.7 533.1,259.0 534.1,260.3 535.1,263.2 535.1,263.4 536.1,258.1 537.1,255.6 538.1,251.2 538.7,249.4 539.1,245.9 540.1,238.7 541.1,233.2 542.0,227.2 542.1,228.0 543.1,224.9 544.1,221.0 545.1,217.8 546.1,215.0 546.2,213.4 547.1,214.0 548.1,211.6 549.1,208.6 550.1,208.6 550.3,207.9 551.1,209.3 552.1,209.3 553.1,208.9 554.1,208.4 554.5,207.8 555.1,205.9 556.1,204.2 557.1,204.5 558.1,203.3 558.6,202.3 559.1,200.5 560.1,198.4 561.1,197.2 562.1,195.4 562.8,195.4 563.1,197.5 564.1,201.1 565.1,206.6 565.5,207.8 566.1,216.4 567.1,228.3 568.1,240.5 568.3,241.1 569.1,247.0 570.1,254.0 571.1,260.5 571.1,261.6 572.1,265.1 573.1,269.1 573.9,271.5 574.1,269.7 575.1,259.2 576.1,247.2 576.6,241.1 577.1,234.8 578.1,224.9 579.1,213.4 579.4,210.6 580.1,208.3 581.1,205.8 582.1,202.1 583.1,197.6 583.5,196.8 584.1,195.9 585.1,193.5 586.1,191.3 587.1,190.2 587.7,188.5 588.1,189.5 589.1,186.8 590.1,184.6 591.1,183.8 591.9,184.3 592.1,184.4 593.1,183.7 594.1,185.9 595.1,185.4 596.0,185.7 596.1,185.4 597.1,186.7 598.1,186.2 599.1,187.6 600.1,187.7 600.2,188.5 601.1,193.8 602.1,197.7 602.9,202.3 603.1,203.4 604.1,207.2 605.1,211.1 605.7,213.4 606.1,215.7 607.1,217.1 608.1,220.4 608.5,221.7 609.1,225.5 610.1,228.1 611.1,233.6 611.2,232.8 612.1,231.1 613.1,228.0 614.0,224.5 614.1,223.5 615.1,220.3 616.1,217.0 616.8,216.2 617.1,214.6 618.1,210.7 619.1,208.6 619.5,207.9 620.1,206.3 621.1,201.8 622.1,199.3 623.1,195.4 623.7,194.0 624.1,192.9 625.1,193.3 626.1,191.6 627.1,191.7 627.9,191.2 628.1,190.9 629.1,191.0 630.1,190.1 630.6,191.2 631.1,190.9 632.1,191.3 633.1,193.2 633.4,194.0" class="s1"/>
<path d="M129.1,228.6 130.1,240.9 131.1,252.2 131.1,253.1 132.1,256.2 133.1,259.6 133.3,260.5 134.1,254.9 135.1,250.7 135.2,249.4 136.1,235.3 137.1,218.3 137.2,218.9 138.1,205.4 139.1,192.4 139.4,191.2 140.1,183.0 141.1,172.8 141.6,166.3 142.1,163.6 143.1,158.3 144.1,153.9 144.4,153.8 145.1,152.1 146.1,151.4 147.1,151.1 148.1,144.6 149.1,141.4 149.1,140.3 150.1,139.4 151.1,137.9 151.8,135.3 152.1,135.9 153.1,136.3 154.1,137.3 154.6,135.9 155.1,140.5 156.1,147.5 156.6,149.7 157.1,158.6 158.1,176.5 158.2,177.4 159.1,191.8 160.1,205.9 160.2,205.1 161.1,214.7 162.1,221.7 162.1,220.8 163.1,213.3 163.8,207.9 164.1,211.5 165.1,215.6 165.7,218.9 166.1,219.6 167.1,222.4 168.1,225.5 168.5,227.2 169.1,224.9 170.1,221.8 171.1,217.7 171.2,216.2 172.1,211.4 173.1,206.1 174.0,199.6 174.1,199.3 175.1,192.7 176.1,187.7 176.8,182.9 177.1,182.0 178.1,177.3 179.1,172.3 179.5,169.1 180.1,167.8 181.1,165.3 182.1,161.4 182.3,160.8 183.1,160.0 184.1,159.4 185.1,160.3 186.1,160.8 186.5,160.8 187.1,161.7 188.1,163.1 189.1,162.5 190.1,162.7 190.6,163.6 191.1,166.3 192.1,173.4 193.1,179.6 193.4,180.2 194.1,192.7 194.8,202.3 195.1,207.9 196.1,218.2 197.0,227.2 197.1,226.9 198.1,231.2 199.1,233.6 199.8,235.6 200.1,238.0 201.1,245.2 202.1,253.8 202.5,257.8 203.1,267.0 204.1,281.6 204.5,285.3 205.1,295.3 205.8,304.8 206.1,302.2 207.1,291.2 208.1,282.7 208.1,281.1 209.1,259.6 210.0,241.1 210.1,240.0 211.1,226.5 212.1,214.0 212.8,207.9 213.1,203.3 214.1,195.3 215.1,186.5 215.5,182.9 216.1,177.5 217.1,170.4 218.1,163.7 218.3,163.5 219.1,159.6 220.1,154.5 221.1,149.7 221.1,148.7 222.1,144.2 223.1,139.8 223.8,138.6 224.1,137.7 225.1,136.8 226.1,135.9 226.6,135.9 227.1,138.4 228.1,143.3 229.1,145.9 229.4,146.9 230.1,156.5 231.1,167.7 232.1,178.9 232.2,177.4 233.1,187.3 234.1,196.6 234.9,205.1 235.1,207.8 236.1,218.7 237.1,226.6 237.7,232.8 238.1,233.3 239.1,237.7 240.1,241.4 240.5,241.1 241.1,245.2 242.1,247.9 242.4,249.4 243.1,242.4 244.1,236.7 244.6,232.8 245.1,225.9 246.1,211.7 247.1,199.9 247.4,196.8 248.1,188.8 249.1,176.6 250.1,162.9 250.2,163.5 251.1,155.5 252.1,146.5 252.9,141.4 253.1,139.0 254.1,133.5 255.1,129.1 255.7,127.5 256.1,126.5 257.1,126.1 258.1,124.4 258.5,124.8 259.1,125.7 260.1,125.7 261.1,126.9 261.8,126.2 262.1,128.5 263.1,133.9 264.0,138.6 264.1,138.8 265.1,146.0 266.1,153.3 266.8,158.0 267.1,160.8 268.1,166.7 269.1,174.7 269.5,177.4 270.1,183.2 271.1,191.5 272.1,199.6 272.3,202.3 273.1,208.4 274.1,215.1 275.1,221.7 275.1,222.0 276.1,225.5 277.1,230.1 277.9,232.8 278.1,231.0 279.1,228.2 280.1,224.4 280.1,223.8 281.1,214.3 282.1,205.8 283.1,197.4 283.4,196.8 284.1,189.2 285.1,178.5 286.1,166.6 286.2,166.3 287.1,157.8 288.1,151.1 288.9,144.2 289.1,144.6 290.1,145.1 291.1,143.6 292.1,141.9 293.1,142.8 293.1,141.8 294.1,141.9 295.0,144.2 295.1,143.2 296.1,142.9 297.1,144.6 298.1,144.9 299.1,144.0 300.1,145.0 300.5,144.2 301.1,145.8 302.1,145.2 303.1,147.7 303.3,146.9 304.1,154.0 305.1,161.3 306.1,169.1 306.1,168.8 307.1,181.4 308.1,194.3 308.9,202.3 309.1,203.0 310.1,208.4 311.1,213.1 311.6,213.4 312.1,215.6 313.1,217.9 314.1,219.2 314.4,218.9 315.1,220.6 316.1,222.7 316.6,224.5 317.1,219.6 318.1,209.3 319.1,198.7 319.4,196.8 320.1,184.5 321.1,170.7 322.1,155.2 323.1,141.9 324.1,126.5 324.9,116.5 325.1,114.6 326.1,111.2 327.1,109.6 327.7,108.2 328.1,110.3 329.1,113.3 330.1,115.1 330.4,116.5 331.1,115.1 332.1,114.8 333.1,114.4 333.8,113.7 334.1,115.5 335.1,116.0 336.1,117.9 337.1,117.4 337.9,119.2 338.1,119.7 339.1,125.4 340.1,132.7 340.7,135.8 341.1,139.7 342.1,151.1 343.1,162.0 343.5,163.5 344.1,170.7 345.1,180.8 346.1,192.6 346.2,194.0 347.1,194.0 348.1,196.7 349.0,196.8 349.1,197.0 350.1,204.1 351.1,209.0 351.8,213.4 352.1,212.2 353.1,213.3 353.7,213.4 354.1,206.1 355.1,191.6 356.1,179.8 356.5,174.6 357.1,170.0 358.1,161.2 359.1,150.0 360.1,141.4 360.1,141.7 361.1,138.5 362.1,135.3 363.1,129.4 363.7,127.5 364.1,125.6 365.1,122.7 366.1,119.0 367.1,118.1 367.6,116.5 368.1,116.5 369.1,115.5 370.1,116.1 371.1,116.5 371.2,116.5 372.1,117.8 373.1,119.0 373.9,119.3 374.1,124.7 375.1,149.8 375.3,155.2 376.1,252.0 377.1,303.5 377.2,310.3 378.1,276.1 379.1,237.0 379.5,224.6 380.1,214.5 381.1,197.2 381.4,192.7 382.1,200.1 383.1,210.1 383.6,213.4 384.1,224.7 385.1,246.6 386.1,267.8 386.4,274.4 387.1,291.4 388.1,312.7 389.1,335.9 389.2,335.3 390.1,353.4 391.1,368.4 391.1,368.1 392.1,354.0 393.1,337.2 393.3,335.2 394.1,313.6 395.1,289.3 396.1,266.0 396.1,264.5 397.1,245.6 398.1,226.4 398.9,210.6 399.1,206.6 400.1,191.3 400.8,182.9 401.1,182.3 402.1,179.1 403.1,176.5 404.1,174.6 404.4,174.6 405.1,172.7 406.1,171.9 407.1,170.4 408.0,169.1 408.1,170.3 409.1,173.8 410.1,178.0 411.1,182.4 411.3,182.9 412.1,187.5 413.1,190.1 414.1,193.9 414.6,196.8 415.1,200.2 416.1,209.7 417.1,219.2 418.1,228.7 418.2,230.0 419.1,236.6 420.1,245.7 421.1,253.5 422.1,261.9 422.4,263.2 423.1,266.2 424.1,270.7 425.1,274.5 426.1,278.8 426.5,279.8 427.1,276.1 428.1,270.4 429.1,264.3 429.3,263.2 430.1,251.5 431.1,237.7 432.1,224.5 432.1,223.8 433.1,213.0 434.1,200.9 434.9,191.2 435.1,190.2 436.1,185.6 437.1,180.5 437.6,177.4 438.1,175.9 439.1,175.9 440.1,173.3 441.1,173.5 441.8,171.9 442.1,171.9 443.1,170.6 444.1,168.9 445.1,168.2 446.1,167.0 446.8,166.3 447.1,167.0 448.1,169.3 449.1,169.2 450.1,169.4 451.1,171.2 451.5,171.9 452.1,173.9 453.1,178.6 454.1,183.6 454.2,183.0 455.1,192.7 456.1,202.8 457.0,213.3 457.1,214.0 458.1,214.8 459.1,213.8 459.8,213.4 460.1,211.2 461.1,207.7 462.1,205.6 462.5,205.1 463.1,206.2 464.1,211.1 465.1,214.8 465.3,216.1 466.1,212.4 467.1,207.1 468.1,202.3 468.1,200.5 469.1,185.9 470.0,174.6 470.1,174.4 471.1,174.7 472.1,175.4 473.1,176.1 474.1,174.1 474.1,174.6 475.1,172.5 476.1,171.8 477.1,171.5 478.1,172.6 478.3,171.8 479.1,170.7 480.1,169.3 480.5,167.7 481.1,170.3 482.1,172.9 483.1,173.1 483.9,174.6 484.1,175.6 485.1,178.0 486.1,179.0 486.6,180.2 487.1,181.2 488.1,186.4 489.1,190.8 489.4,191.3 490.1,198.3 491.1,205.4 492.1,214.2 492.1,213.4 493.1,219.6 494.1,225.0 494.9,230.0 495.1,229.8 496.1,233.7 497.1,238.3 498.1,239.1 499.1,241.1 499.1,241.9 500.1,243.4 501.1,244.6 501.9,243.8 502.1,244.4 503.1,239.7 504.1,237.2 504.6,235.5 505.1,232.2 506.1,224.0 507.1,216.0 507.4,213.4 508.1,209.1 509.1,205.4 510.1,200.1 510.2,199.5 511.1,198.5 512.1,197.3 513.1,195.9 514.1,195.6 514.3,196.8 515.1,197.9 516.1,197.8 517.1,197.6 518.1,198.0 518.5,199.5 519.1,199.0 520.1,202.3 521.1,202.1 522.1,202.9 522.6,205.1 523.1,205.9 524.1,208.3 525.1,211.2 525.4,213.4 526.1,217.7 527.1,223.4 528.1,227.2 528.2,227.3 529.1,231.3 530.1,237.0 530.4,236.9 531.1,235.2 532.1,233.7 533.1,230.0 534.1,223.2 535.1,213.4 535.1,214.9 536.1,214.6 537.1,214.3 538.1,213.0 538.7,213.4 539.1,210.2 540.1,205.2 541.1,200.1 541.5,196.8 542.1,191.5 543.1,181.0 543.4,177.4 544.1,174.3 545.1,170.7 546.1,165.9 546.2,166.3 547.1,164.2 548.1,161.1 548.9,158.0 549.1,157.8 550.1,155.2 551.1,153.0 551.7,152.5 552.1,153.9 553.1,157.5 554.1,158.8 554.5,159.4 555.1,161.3 556.1,160.7 557.1,161.8 558.1,164.0 558.6,163.5 559.1,165.4 560.1,170.2 561.1,173.3 561.4,174.6 562.1,178.4 563.1,182.4 564.1,184.8 564.2,185.7 565.1,195.8 566.1,207.1 566.4,210.6 567.1,223.3 568.1,238.1 568.3,241.1 569.1,242.2 570.1,245.7 571.1,249.4 571.1,249.6 572.1,250.8 573.1,254.2 573.9,254.9 574.1,253.1 575.1,249.0 576.1,242.7 576.6,241.1 577.1,229.8 578.1,211.3 578.8,196.9 579.1,188.4 580.1,164.1 580.8,149.8 581.1,143.6 582.1,133.5 583.1,120.2 583.5,116.5 584.1,112.4 585.1,105.7 585.8,102.6 586.1,101.4 587.1,104.3 588.1,105.5 588.5,105.4 589.1,109.9 590.1,113.4 591.1,119.3 591.3,119.3 592.1,124.0 593.1,129.2 594.1,134.8 594.6,135.9 595.1,138.4 596.1,142.5 597.1,146.1 598.1,147.9 598.8,149.7 599.1,152.7 600.1,161.0 601.1,169.9 601.5,174.6 602.1,182.0 603.1,196.7 604.1,212.6 604.3,216.1 605.1,217.0 606.1,220.4 607.1,224.5 607.1,225.2 608.1,227.6 609.1,230.1 609.9,230.0 610.1,231.6 611.1,236.8 612.1,240.4 612.6,243.8 613.1,233.3 614.1,216.9 615.1,200.3 615.4,196.8 616.1,179.6 617.1,157.2 618.1,134.4 618.2,133.1 619.1,122.7 620.1,111.0 620.9,102.6 621.1,102.8 622.1,102.9 623.1,104.1 623.7,105.4 624.1,105.5 625.1,108.8 626.1,111.4 626.5,110.9 627.1,114.2 628.1,116.4 629.1,119.4 629.2,119.3 630.1,124.0 631.1,128.3 632.0,133.1 632.1,132.0 633.1,135.1 633.4,135.8" class="s2"/>
<path d="M524,38.8H554" class="ctl"/>
<text x="569.5" y="44.8" class="lg">Control</text>
<path d="M524,58.9H554" class="s1"/>
<text x="569.5" y="64.9" class="lg">White 25%</text>
<path d="M524,79.1H554" class="s2"/>
<text x="569.5" y="85.1" class="lg">White 30%</text>
<path d="M524,99.2H554" class="rain"/>
<text x="569.5" y="105.2" class="lg">Rain</text>
</g>
<g transform="translate(725.5,544.0)">
<text x="0.30000000000000004" y="12.7" class="let">D</text>
<path d="M109,47.8V440.2" class="ax"/>
<path d="M99,47.8H109" class="ax"/>
<text x="88.5" y="54.8" class="tk" text-anchor="end">1.5</text>
<path d="M99,113.2H109" class="ax"/>
<text x="88.5" y="120.2" class="tk" text-anchor="end">1.0</text>
<path d="M99,178.6H109" class="ax"/>
<text x="88.5" y="185.6" class="tk" text-anchor="end">0.5</text>
<path d="M99,244.0H109" class="ax"/>
<text x="88.5" y="251.0" class="tk" text-anchor="end">0.0</text>
<path d="M99,309.4H109" class="ax"/>
<text x="88.5" y="316.4" class="tk" text-anchor="end">-0.5</text>
<path d="M99,374.8H109" class="ax"/>
<text x="88.5" y="381.8" class="tk" text-anchor="end">-1.0</text>
<path d="M99,440.2H109" class="ax"/>
<text x="88.5" y="447.2" class="tk" text-anchor="end">-1.5</text>
<text transform="translate(44.6,230.85) rotate(-90)" class="ti" text-anchor="middle">Difference in Sand Temp (°C)</text>
<path d="M653.5,57.4V427.0" class="ax"/>
<path d="M653.5,427.0H664" class="ax"/>
<text x="673.5" y="434.5" class="tk">0</text>
<path d="M653.5,334.6H664" class="ax"/>
<text x="673.5" y="342.1" class="tk">2</text>
<path d="M653.5,242.2H664" class="ax"/>
<text x="673.5" y="249.7" class="tk">4</text>
<path d="M653.5,149.8H664" class="ax"/>
<text x="673.5" y="157.3" class="tk">6</text>
<path d="M653.5,57.4H664" class="ax"/>
<text x="673.5" y="64.9" class="tk">8</text>
<text transform="translate(710.1,230.85) rotate(-90)" class="ti" text-anchor="middle">Daily Rainfall (cm)</text>
<path d="M177,452.8V442.5H547V452.8" class="ax"/>
<path d="M362,442.5V452.8" class="ax"/>
<text x="177" y="479.3" class="tk" text-anchor="middle">Aug 22</text>
<text x="362" y="479.3" class="tk" text-anchor="middle">Aug 27</text>
<text x="547" y="479.3" class="tk" text-anchor="middle">Sep 01</text>
<text x="381" y="519.7" class="ti" text-anchor="middle">Date</text>
<path d="M129,244.0H633" class="ctl"/>
<path d="M129.0,416.2 135.9,416.2 136.5,409.6 139.0,409.6 139.6,426.5 141.0,426.5 152.7,422.3 176.1,422.3 178.0,426.5 319.3,426.5 321.7,403.6 324.9,403.6 326.0,426.5 369.8,426.5 371.7,400.3 375.3,336.0 376.5,41.2 399.1,41.2 399.3,426.5 402.0,426.5 404.3,421.4 434.3,421.4 437.0,426.5 457.7,426.5 459.5,408.7 471.7,408.7 473.5,426.5 493.8,426.5 496.0,402.1 509.1,399.7 510.6,426.5 542.8,426.5 545.0,425.5 562.4,425.5 563.4,364.7 583.0,364.7 584.3,426.1 612.0,426.1 618.6,402.1 621.4,402.1 621.4,426.5 631.7,426.5" class="rain"/>
<path d="M129.0,184.4 130.0,202.5 130.3,209.1 131.0,219.7 131.9,236.2 132.0,237.7 133.0,248.0 133.5,252.0 134.0,248.2 135.0,242.3 135.3,240.7 136.0,233.2 137.0,221.3 137.1,218.2 138.0,211.9 139.0,204.0 139.3,200.2 140.0,198.3 141.0,195.1 141.6,191.2 142.0,190.0 143.0,186.7 144.0,185.0 144.3,184.4 145.0,182.2 146.0,181.7 146.5,179.9 147.0,179.4 148.0,176.4 148.8,173.1 149.0,174.0 150.0,172.6 151.0,172.0 152.0,169.7 152.2,168.6 153.0,169.0 154.0,166.8 155.0,165.1 155.1,166.4 156.0,161.6 157.0,157.7 157.8,152.9 158.0,151.7 159.0,147.0 160.0,141.9 161.0,136.9 161.2,134.8 162.0,132.5 163.0,128.5 164.0,124.8 164.1,123.6 165.0,128.6 166.0,137.4 166.4,139.4 167.0,142.2 167.9,147.2 168.0,147.9 169.0,147.3 170.0,147.5 171.0,147.9 171.3,147.2 172.0,148.5 173.0,148.9 174.0,148.2 174.7,148.4 175.0,149.1 176.0,151.0 177.0,150.5 178.0,152.4 178.1,151.7 179.0,152.5 180.0,153.1 181.0,153.1 181.4,152.9 182.0,153.5 183.0,156.0 184.0,159.0 184.8,159.6 185.0,160.2 186.0,161.8 187.0,164.3 188.0,166.5 188.2,166.4 189.0,168.8 190.0,169.4 191.0,170.2 191.6,170.9 192.0,168.5 193.0,166.7 194.0,162.7 195.0,158.5 195.0,159.6 196.0,155.8 197.0,152.2 198.0,149.4 198.3,148.4 199.0,148.3 200.0,148.4 200.6,148.4 201.0,151.6 202.0,164.5 202.8,175.4 203.0,177.2 204.0,194.1 205.0,211.3 205.1,213.6 206.0,227.9 206.9,242.9 207.0,243.0 208.0,230.6 209.0,216.1 209.2,213.7 210.0,204.2 211.0,191.1 211.9,179.9 212.0,178.4 213.0,169.5 214.0,160.1 214.1,159.6 215.0,157.8 216.0,157.1 217.0,155.9 217.5,157.4 218.0,156.9 219.0,157.3 220.0,156.6 220.9,156.2 221.0,155.3 222.0,156.4 223.0,155.6 224.0,155.6 224.2,157.4 225.0,156.3 226.0,156.5 227.0,157.6 227.6,157.4 228.0,157.6 229.0,153.7 229.9,150.6 230.0,150.5 231.0,146.2 232.0,141.6 232.1,139.4 233.0,172.7 233.7,200.0 234.0,197.3 235.0,186.8 235.5,182.1 236.0,166.8 237.0,132.0 237.1,128.2 238.0,131.6 238.9,134.9 239.0,136.8 240.0,149.5 241.0,162.0 241.2,164.2 242.0,179.5 243.0,198.7 243.4,206.9 244.0,200.7 245.0,189.7 245.7,180.0 246.0,175.4 247.0,161.5 247.9,146.1 248.0,146.9 249.0,139.7 250.0,134.7 250.6,130.3 251.0,131.5 252.0,132.2 253.0,132.0 253.5,132.6 254.0,133.8 255.0,134.7 256.0,136.3 256.9,139.4 257.0,139.0 258.0,140.9 259.0,141.0 260.0,143.7 260.3,143.9 261.0,146.2 262.0,147.7 263.0,150.1 263.7,150.6 264.0,151.9 265.0,153.7 266.0,154.3 267.0,156.9 267.1,157.4 268.0,162.7 269.0,165.6 270.0,170.5 270.0,170.9 271.0,175.1 272.0,177.8 272.7,181.0 273.0,181.0 274.0,182.8 275.0,185.7 276.0,188.5 276.1,188.9 277.0,191.1 278.0,193.2 278.3,193.4 279.0,196.6 280.0,204.2 280.6,206.9 281.0,200.9 282.0,186.8 282.8,173.1 283.0,172.4 284.0,164.9 285.0,155.7 285.8,150.6 286.0,148.6 287.0,144.8 288.0,139.1 288.5,137.1 289.0,136.2 290.0,138.2 291.0,137.6 291.8,139.4 292.0,138.0 293.0,139.5 294.0,141.3 294.5,141.6 295.0,142.0 296.0,146.3 296.8,148.4 297.0,148.8 298.0,150.5 299.0,152.1 300.0,153.3 300.1,152.9 301.0,154.2 302.0,156.5 303.0,157.5 303.5,159.6 304.0,160.6 305.0,161.0 306.0,162.9 306.9,164.1 307.0,164.0 308.0,166.2 309.0,167.1 310.0,168.4 310.3,168.6 311.0,172.7 312.0,175.6 312.5,177.6 313.0,184.5 314.0,199.0 315.0,214.6 315.2,218.2 316.0,223.1 317.0,232.0 317.5,236.2 318.0,225.4 319.0,205.2 319.7,191.2 320.0,185.2 321.0,164.9 322.0,146.3 322.0,146.2 323.0,140.4 324.0,133.7 324.2,131.5 325.0,134.7 326.0,135.5 326.5,137.1 327.0,138.2 328.0,140.9 329.0,143.2 329.4,143.9 330.0,145.8 331.0,144.5 332.0,145.5 332.4,146.1 333.0,146.6 334.0,149.4 335.0,151.2 335.1,150.6 336.0,152.7 337.0,153.0 338.0,153.9 338.4,155.1 339.0,154.8 340.0,156.3 340.7,157.4 341.0,156.7 342.0,153.6 343.0,148.0 343.6,146.1 344.0,145.5 345.0,141.5 346.0,137.5 346.3,137.1 347.0,133.8 348.0,133.5 348.6,131.5 349.0,132.3 350.0,138.5 350.8,141.6 351.0,142.7 352.0,156.3 353.0,170.3 353.5,177.6 354.0,184.7 354.9,195.6 355.0,195.1 356.0,173.8 357.0,153.6 357.1,150.6 358.0,143.2 359.0,135.2 359.8,128.1 360.0,127.7 361.0,126.5 362.0,123.8 362.5,122.5 363.0,123.2 364.0,123.9 365.0,125.7 365.5,125.8 366.0,127.0 367.0,128.5 368.0,130.2 368.4,130.3 369.0,130.8 370.0,131.6 371.0,132.1 371.5,132.6 372.0,133.9 373.0,136.0 373.8,137.2 374.0,146.7 375.0,196.8 375.6,227.2 376.0,224.2 377.0,211.7 377.4,204.7 378.0,204.1 379.0,202.6 379.6,200.2 380.0,202.2 381.0,202.1 382.0,203.7 382.4,204.7 383.0,204.8 384.0,207.8 385.0,209.1 385.1,209.2 386.0,213.7 387.0,216.4 387.3,218.2 388.0,222.4 389.0,229.2 389.1,231.8 390.0,244.2 391.0,256.9 391.4,263.2 392.0,258.3 393.0,250.9 394.0,242.0 394.1,240.7 395.0,229.8 396.0,216.7 397.0,203.4 397.0,202.4 398.0,200.0 399.0,196.6 399.2,195.7 400.0,197.0 401.0,197.1 402.0,196.5 402.2,196.8 403.0,195.8 404.0,195.9 404.9,197.9 405.0,198.2 406.0,199.2 407.0,201.3 407.1,200.2 408.0,201.4 409.0,204.7 410.0,205.0 410.5,206.9 411.0,207.9 412.0,209.3 413.0,209.0 413.9,209.2 414.0,209.7 415.0,201.9 416.0,196.8 416.1,195.7 417.0,192.6 418.0,190.1 419.0,188.6 419.5,186.7 420.0,186.1 421.0,184.9 422.0,185.0 422.9,184.4 423.0,183.7 424.0,190.3 425.0,197.0 425.6,200.2 426.0,205.7 427.0,225.6 428.0,242.1 428.1,245.2 429.0,238.4 430.0,232.2 430.8,227.2 431.0,225.3 432.0,220.3 433.0,214.2 433.7,209.2 434.0,208.5 435.0,207.4 436.0,205.9 436.9,202.4 437.0,202.9 438.0,201.2 439.0,199.7 440.0,199.6 440.9,200.2 441.0,200.4 442.0,199.7 443.0,199.2 444.0,197.5 444.3,195.7 445.0,195.6 446.0,195.9 447.0,194.3 447.7,193.4 448.0,193.3 449.0,194.2 450.0,194.1 451.0,193.7 451.1,193.4 452.0,196.6 453.0,198.8 454.0,200.7 454.4,202.4 455.0,200.8 456.0,199.6 457.0,195.9 457.8,193.4 458.0,192.2 459.0,188.8 460.0,185.0 461.0,181.9 461.2,179.9 462.0,185.6 463.0,191.0 463.9,195.7 464.0,195.9 465.0,198.6 466.0,200.9 466.8,202.4 467.0,202.7 468.0,194.1 469.0,185.9 469.5,182.2 470.0,181.6 471.0,181.2 471.8,179.9 472.0,181.0 473.0,181.7 474.0,181.6 474.0,182.2 475.0,184.3 476.0,186.0 477.0,185.7 477.4,186.7 478.0,186.5 479.0,187.8 480.0,190.4 480.8,191.2 481.0,191.8 482.0,193.3 483.0,196.5 484.0,197.8 484.1,197.9 485.0,198.9 486.0,201.2 487.0,202.8 487.5,204.7 488.0,204.8 489.0,202.6 490.0,202.9 490.9,202.4 491.0,201.8 492.0,200.2 493.0,200.4 493.8,200.2 494.0,198.2 495.0,194.6 496.0,188.8 497.0,183.6 497.0,184.4 498.0,185.0 499.0,187.9 499.9,191.2 500.0,191.8 501.0,191.9 502.0,193.0 503.0,194.4 503.3,195.7 504.0,195.0 505.0,195.7 506.0,194.3 506.7,193.4 507.0,195.2 508.0,194.7 509.0,197.2 510.0,199.4 510.1,197.9 511.0,199.4 512.0,201.8 513.0,201.8 513.4,202.4 514.0,202.2 515.0,204.6 516.0,205.5 516.8,206.9 517.0,207.0 518.0,209.1 519.0,210.4 520.0,212.0 520.2,211.4 521.0,212.1 522.0,214.1 523.0,216.5 523.6,215.9 524.0,216.0 525.0,216.4 526.0,217.8 527.0,218.2 527.0,219.2 528.0,215.3 529.0,214.3 529.9,211.4 530.0,211.1 531.0,211.6 532.0,211.1 532.6,209.2 533.0,210.8 534.0,211.0 535.0,212.1 535.3,213.7 536.0,219.0 537.0,229.0 537.5,236.2 538.0,237.0 539.0,242.0 539.8,247.4 540.0,244.4 541.0,234.8 542.0,226.3 542.7,218.2 543.0,215.9 544.0,211.9 545.0,207.2 546.0,201.3 546.1,200.2 547.0,199.7 548.0,197.7 549.0,195.7 549.5,193.4 550.0,194.9 551.0,192.8 551.7,193.4 552.0,194.0 553.0,196.1 554.0,198.0 555.0,199.5 555.1,197.9 556.0,200.1 557.0,199.6 558.0,201.7 559.0,202.8 559.6,202.4 560.0,202.5 561.0,202.0 562.0,202.7 563.0,202.6 564.0,202.9 564.1,204.7 565.0,203.8 566.0,205.5 567.0,208.2 568.0,207.5 568.6,209.2 569.0,209.2 570.0,208.8 571.0,211.2 572.0,212.5 572.0,211.4 573.0,220.1 574.0,229.0 574.2,231.7 575.0,243.5 576.0,258.0 576.5,267.7 577.0,263.1 578.0,256.4 578.8,249.7 579.0,248.5 580.0,240.9 581.0,234.5 581.7,229.5 582.0,229.3 583.0,225.3 584.0,222.2 584.4,222.7 585.0,219.8 586.0,219.1 587.0,215.1 587.8,213.7 588.0,212.9 589.0,212.8 590.0,210.8 591.0,209.8 591.1,209.2 592.0,208.4 593.0,207.3 594.0,206.2 594.5,204.7 595.0,204.0 596.0,203.4 597.0,204.3 597.9,204.7 598.0,204.7 599.0,204.8 600.0,203.3 601.0,203.0 602.0,201.9 602.4,200.2 603.0,201.2 604.0,198.9 605.0,197.4 605.8,196.8 606.0,197.1 607.0,198.9 608.0,202.5 608.7,204.7 609.0,208.5 610.0,220.7 611.0,232.5 611.0,231.7 612.0,242.5 612.8,251.9 613.0,249.7 614.0,240.4 615.0,231.9 615.5,227.2 616.0,225.3 617.0,220.5 618.0,215.8 618.2,216.0 619.0,215.2 620.0,212.9 621.0,212.2 621.6,211.4 622.0,211.0 623.0,209.8 624.0,209.5 624.9,206.9 625.0,208.3 626.0,205.0 627.0,205.0 628.0,203.0 628.3,202.4 629.0,202.9 630.0,202.8 631.0,201.1 631.2,201.3 632.0,202.0 633.0,200.8 633.5,200.2" class="s1"/>
<path d="M129.0,184.4 130.0,179.7 130.8,175.4 131.0,176.0 132.0,172.5 133.0,171.6 133.0,170.9 134.0,170.2 135.0,169.2 135.3,168.6 136.0,168.6 137.0,166.4 137.5,164.1 138.0,163.4 139.0,159.6 139.8,157.4 140.0,157.5 141.0,153.2 142.0,150.2 142.0,150.6 143.0,149.3 144.0,149.3 144.3,148.4 145.0,150.1 146.0,152.4 146.5,152.9 147.0,153.9 148.0,157.6 148.3,158.5 149.0,155.6 149.9,149.5 150.0,150.9 151.0,151.6 152.0,152.3 152.2,150.6 153.0,152.9 154.0,153.9 154.4,155.1 155.0,157.2 156.0,162.4 156.0,164.1 157.0,176.4 157.3,182.2 158.0,195.1 158.9,213.6 159.0,214.4 160.0,238.9 160.1,240.7 161.0,237.5 161.8,231.7 162.0,231.5 163.0,220.3 164.0,210.7 164.1,209.2 165.0,199.7 166.0,191.0 166.4,186.6 167.0,182.8 168.0,176.0 169.0,168.2 169.1,168.6 170.0,162.5 171.0,158.2 171.8,155.1 172.0,153.1 173.0,152.7 174.0,150.7 174.7,148.4 175.0,147.6 176.0,146.0 177.0,142.5 177.6,141.6 178.0,141.1 179.0,139.9 179.9,139.4 180.0,139.0 181.0,139.9 182.0,139.6 182.6,141.6 183.0,141.8 184.0,144.8 185.0,146.3 185.3,148.4 186.0,148.4 187.0,152.1 188.0,155.7 188.2,155.1 189.0,157.0 190.0,159.5 191.0,162.7 191.1,164.1 192.0,169.4 193.0,176.9 193.4,179.9 194.0,188.3 195.0,202.0 195.6,209.1 196.0,214.4 197.0,225.5 197.9,236.2 198.0,235.2 199.0,235.5 199.5,236.2 200.0,232.4 201.0,225.9 201.7,222.7 202.0,218.9 203.0,210.1 204.0,202.4 204.7,195.7 205.0,189.9 206.0,172.3 206.9,157.3 207.0,155.2 208.0,138.6 209.0,123.2 209.2,119.1 210.0,111.2 211.0,100.9 211.4,95.5 212.0,95.8 213.0,97.6 214.0,98.6 214.1,98.8 215.0,100.0 216.0,102.6 217.0,102.9 217.5,103.3 218.0,105.4 219.0,106.4 220.0,107.1 220.4,107.8 221.0,108.1 222.0,109.9 223.0,111.8 223.1,113.4 224.0,113.6 225.0,115.9 226.0,115.4 226.5,116.8 227.0,118.5 228.0,119.6 229.0,123.0 229.4,123.6 230.0,130.4 231.0,145.6 231.0,146.1 232.0,165.9 233.0,188.5 233.3,195.6 234.0,203.1 235.0,213.2 236.0,223.2 236.2,223.8 237.0,221.9 238.0,217.2 238.4,213.7 239.0,209.4 240.0,200.4 241.0,192.7 241.2,191.2 242.0,179.6 243.0,164.6 243.8,150.7 244.0,149.8 245.0,135.4 245.7,123.7 246.0,121.2 247.0,108.3 247.9,96.5 248.0,97.3 249.0,94.3 250.0,91.9 250.6,90.9 251.0,92.8 252.0,94.0 253.0,98.2 253.5,98.8 254.0,99.9 255.0,102.5 256.0,103.8 256.9,105.6 257.0,105.8 258.0,109.3 259.0,113.0 259.6,114.6 260.0,116.8 261.0,118.9 262.0,122.5 262.6,123.6 263.0,124.7 264.0,129.6 265.0,132.3 265.5,134.9 266.0,138.4 267.0,144.8 268.0,151.2 268.2,152.9 269.0,160.1 270.0,168.2 270.9,175.5 271.0,176.2 272.0,190.9 272.7,200.2 273.0,203.1 274.0,216.3 274.5,223.8 275.0,220.7 276.0,217.0 277.0,214.6 277.2,213.7 278.0,205.5 279.0,196.6 279.4,191.1 280.0,181.3 281.0,158.9 281.7,141.6 282.0,137.9 283.0,121.2 283.5,112.3 284.0,109.8 285.0,101.7 285.8,96.6 286.0,96.6 287.0,98.9 288.0,100.7 288.5,103.3 289.0,103.3 290.0,106.2 291.0,108.4 291.2,110.1 292.0,112.9 293.0,118.4 294.0,125.8 294.1,125.8 294.5,130.3 295.0,133.2 296.0,138.6 296.8,141.6 297.0,143.3 298.0,144.1 299.0,147.0 299.0,146.1 300.0,150.5 301.0,151.5 301.3,152.9 302.0,155.0 303.0,156.5 304.0,160.0 304.6,161.9 305.0,164.3 306.0,172.7 306.9,182.2 307.0,182.2 308.0,195.7 308.5,204.7 309.0,208.0 310.0,218.7 310.3,222.7 311.0,220.4 312.0,218.3 312.5,216.0 313.0,212.2 314.0,204.1 314.8,195.7 315.0,196.2 316.0,190.1 317.0,182.1 317.0,182.1 318.0,164.3 318.8,146.1 319.0,142.6 320.0,119.1 320.4,110.0 321.0,104.9 322.0,97.2 322.0,96.6 323.0,88.4 324.0,79.7 324.2,78.5 325.0,79.9 326.0,83.7 326.5,87.5 327.0,89.7 328.0,97.9 328.3,101.0 329.0,104.2 330.0,108.9 330.1,110.0 331.0,113.1 332.0,116.3 332.4,116.8 333.0,118.1 334.0,121.4 335.0,124.1 335.1,125.8 336.0,125.8 337.0,129.1 337.8,130.3 338.0,130.0 339.0,135.2 340.0,140.2 340.7,141.6 341.0,146.0 342.0,159.4 342.3,161.9 343.0,174.1 344.0,191.8 344.5,202.4 345.0,206.5 346.0,217.0 346.8,223.8 347.0,221.5 348.0,214.1 349.0,205.1 349.0,204.6 350.0,188.7 350.8,173.1 351.0,171.8 352.0,155.9 352.6,143.9 353.0,139.3 354.0,121.1 354.9,105.6 355.0,104.9 356.0,92.5 357.0,81.4 357.6,74.0 358.0,74.0 359.0,76.5 359.8,76.3 360.0,77.4 361.0,74.7 361.6,71.8 362.0,72.6 363.0,75.1 364.0,79.0 364.3,80.8 365.0,85.0 366.0,90.2 367.0,93.8 367.0,94.3 368.0,97.0 369.0,97.7 370.0,100.5 370.0,101.1 371.0,104.2 372.0,108.1 372.9,112.3 373.0,113.3 374.0,120.5 374.5,123.6 375.0,153.2 375.6,188.9 376.0,194.0 377.0,206.6 377.4,211.4 378.0,209.2 379.0,203.2 379.6,200.2 380.0,197.4 381.0,187.2 381.2,184.4 382.0,191.7 382.8,200.2 383.0,200.6 384.0,208.1 384.6,213.7 385.0,215.1 386.0,219.4 386.9,224.9 387.0,225.4 388.0,229.7 389.0,232.5 390.0,234.8 390.2,236.2 391.0,227.2 392.0,212.2 392.5,204.6 393.0,194.3 394.0,171.8 394.8,152.8 395.0,149.2 396.0,137.4 397.0,124.1 397.0,123.6 398.0,116.2 398.6,111.2 399.0,113.0 400.0,113.1 401.0,114.1 401.5,115.7 402.0,117.5 403.0,120.3 404.0,123.5 404.4,123.6 405.0,127.1 406.0,130.0 407.0,134.2 407.1,134.9 408.0,138.7 409.0,143.9 409.4,146.1 410.0,150.0 411.0,154.9 411.6,159.6 412.0,160.6 413.0,164.5 414.0,168.6 414.4,170.9 415.0,179.7 416.0,193.2 416.1,195.7 417.0,208.6 418.0,224.3 418.4,231.7 419.0,238.4 420.0,251.0 421.0,262.7 421.8,272.3 422.0,271.8 423.0,263.8 424.0,256.5 424.0,254.3 425.0,245.2 426.0,233.6 427.0,222.4 427.4,218.2 428.0,210.5 429.0,197.3 429.7,186.6 430.0,183.9 431.0,171.6 432.0,160.2 432.4,155.1 433.0,153.7 434.0,149.8 435.0,144.0 436.0,139.0 436.0,140.5 437.0,143.4 438.0,145.1 438.7,148.4 439.0,148.7 440.0,151.3 440.9,155.1 441.0,154.1 442.0,156.6 443.0,160.9 443.6,161.9 444.0,163.3 445.0,162.4 446.0,163.3 446.6,164.1 447.0,163.7 448.0,166.5 449.0,169.4 449.5,170.9 450.0,172.1 451.0,176.8 452.0,182.0 452.2,184.4 453.0,192.4 454.0,204.6 454.9,213.7 455.0,215.8 456.0,221.9 457.0,228.7 457.8,236.2 458.0,234.7 459.0,230.9 460.0,227.2 460.8,222.7 461.0,222.2 462.0,213.1 463.0,202.3 463.5,197.9 464.0,193.5 465.0,182.2 465.7,175.4 466.0,170.7 467.0,157.2 468.0,146.1 469.0,136.7 469.5,132.6 470.0,134.3 471.0,136.8 471.8,137.1 472.0,139.7 473.0,143.8 474.0,147.1 474.0,146.1 475.0,148.8 476.0,149.7 477.0,151.4 477.4,152.9 478.0,154.0 479.0,154.9 480.0,157.8 480.8,159.6 481.0,159.0 482.0,161.4 483.0,164.8 483.5,166.4 484.0,167.4 485.0,171.1 486.0,176.7 486.4,177.7 487.0,180.4 488.0,183.7 489.0,187.0 489.3,186.6 490.0,191.7 491.0,200.3 491.6,204.7 492.0,207.8 493.0,217.1 493.8,227.2 494.0,226.6 495.0,236.0 496.0,243.3 496.1,245.2 497.0,241.9 498.0,238.9 498.3,236.2 499.0,232.0 500.0,226.9 500.6,222.7 501.0,219.9 502.0,212.1 503.0,206.0 503.3,204.7 504.0,199.1 505.0,190.5 505.5,186.7 506.0,184.6 507.0,179.3 508.0,176.2 508.2,175.4 509.0,174.3 510.0,172.6 511.0,173.3 511.2,173.1 512.0,174.1 513.0,173.1 514.0,173.9 514.1,173.1 515.0,176.7 516.0,179.4 516.8,182.2 517.0,182.9 518.0,184.4 519.0,185.6 520.0,187.5 520.2,188.9 521.0,190.5 522.0,193.4 523.0,196.5 523.1,198.0 524.0,204.2 525.0,210.6 525.4,213.7 526.0,216.1 527.0,221.7 527.6,227.2 528.0,228.1 529.0,236.5 530.0,244.9 530.3,249.7 531.0,252.4 532.0,260.3 533.0,267.1 533.2,268.9 534.0,264.6 535.0,259.2 536.0,254.2 537.0,247.4 538.0,240.4 538.9,231.8 539.0,230.4 540.0,214.7 541.0,197.6 541.1,195.6 542.0,186.0 543.0,173.1 543.4,168.6 544.0,163.7 545.0,159.0 546.0,154.6 546.1,152.9 547.0,149.7 548.0,145.2 549.0,142.7 549.5,140.5 550.0,141.4 551.0,143.6 551.7,146.1 552.0,146.9 553.0,148.2 554.0,148.5 554.0,148.4 555.0,153.1 556.0,155.9 556.9,159.6 557.0,160.1 558.0,161.5 559.0,163.4 559.6,164.1 560.0,165.9 561.0,172.6 561.9,177.6 562.0,179.2 563.0,184.5 564.0,191.1 564.6,195.7 565.0,198.9 566.0,208.3 566.8,218.2 567.0,218.8 568.0,230.0 569.0,238.6 569.1,240.7 570.0,241.6 571.0,244.1 572.0,246.7 572.0,247.5 573.0,242.7 574.0,236.7 574.2,234.0 575.0,226.6 576.0,214.2 576.5,209.1 577.0,203.1 578.0,191.8 578.8,182.1 579.0,180.8 580.0,171.6 581.0,161.6 581.0,159.6 582.0,157.8 583.0,153.9 583.9,148.4 584.0,149.7 585.0,150.9 586.0,151.9 586.6,150.6 587.0,152.7 588.0,154.1 589.0,157.7 590.0,159.0 590.0,159.6 591.0,161.3 592.0,165.1 593.0,166.4 593.0,166.3 594.0,168.4 595.0,170.7 595.6,173.1 596.0,172.7 597.0,173.7 598.0,176.0 598.4,177.7 599.0,183.2 600.0,190.5 600.6,195.7 601.0,199.4 602.0,208.2 602.9,218.2 603.0,219.2 604.0,226.6 605.0,233.1 605.8,239.6 606.0,239.2 607.0,236.5 608.0,236.6 608.0,236.2 609.0,227.9 610.0,216.8 610.3,213.7 611.0,205.3 612.0,194.4 612.5,186.7 613.0,179.9 614.0,163.0 614.8,150.7 615.0,149.8 616.0,140.7 617.0,131.2 617.1,130.3 618.0,126.4 619.0,123.9 619.3,123.6 620.0,125.7 621.0,127.1 622.0,129.5 622.2,130.4 623.0,132.4 624.0,137.5 624.9,141.6 625.0,141.4 626.0,142.4 627.0,145.3 628.0,148.7 628.3,148.4 629.0,149.2 630.0,151.0 631.0,154.6 631.2,155.1 632.0,160.2 633.0,164.2 633.5,167.5" class="s2"/>
<path d="M526,38.8H556" class="ctl"/>
<text x="571.5" y="44.8" class="lg">Control</text>
<path d="M526,58.9H556" class="s1"/>
<text x="571.5" y="64.9" class="lg">Black 25%</text>
<path d="M526,79.1H556" class="s2"/>
<text x="571.5" y="85.1" class="lg">Black 30%</text>
<path d="M526,99.2H556" class="rain"/>
<text x="571.5" y="105.2" class="lg">Rain</text>
</g>
</svg>
</body></html>
